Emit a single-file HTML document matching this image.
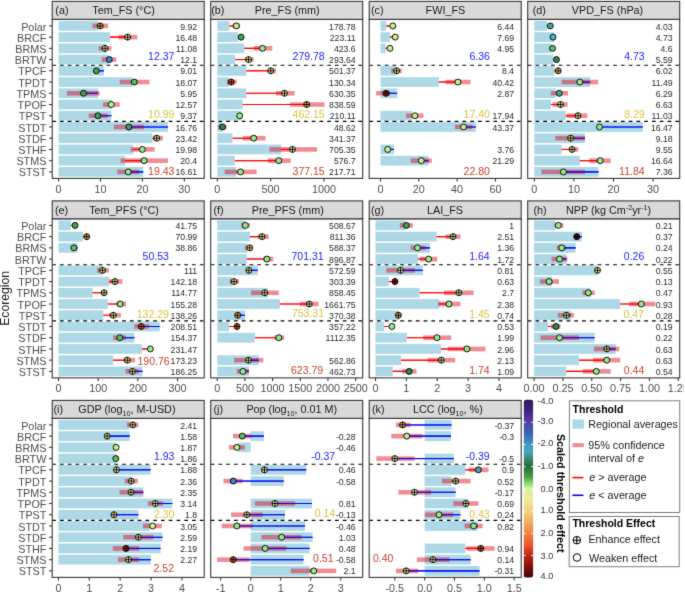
<!DOCTYPE html>
<html><head><meta charset="utf-8"><title>Threshold figure</title>
<style>
html,body{margin:0;padding:0;background:#fff;width:685px;height:592px;overflow:hidden}
svg{display:block;font-family:"Liberation Sans", sans-serif}
</style></head><body>
<svg width="685" height="592" viewBox="0 0 685 592">
<defs><filter id="soft" filterUnits="userSpaceOnUse" x="0" y="0" width="685" height="592" color-interpolation-filters="sRGB"><feConvolveMatrix order="3" kernelMatrix="0.0113 0.0838 0.0113 0.0838 0.6193 0.0838 0.0113 0.0838 0.0113" edgeMode="duplicate"/></filter></defs>
<g filter="url(#soft)">
<rect width="685" height="592" fill="#FFFFFF"/>
<g>
<rect x="52.20" y="19.30" width="152.00" height="159.10" fill="#FFFFFF"/>
<clipPath id="cpa"><rect x="52.20" y="19.30" width="152.00" height="159.10"/></clipPath>
<g clip-path="url(#cpa)">
<rect x="58.60" y="21.02" width="39.51" height="9.75" fill="#ADD8E6"/>
<rect x="58.60" y="32.25" width="51.54" height="9.75" fill="#ADD8E6"/>
<rect x="58.60" y="43.48" width="47.35" height="9.75" fill="#ADD8E6"/>
<rect x="58.60" y="54.71" width="49.86" height="9.75" fill="#ADD8E6"/>
<rect x="58.60" y="65.94" width="45.25" height="9.75" fill="#ADD8E6"/>
<rect x="58.60" y="77.18" width="73.74" height="9.75" fill="#ADD8E6"/>
<rect x="58.60" y="88.41" width="39.39" height="9.75" fill="#ADD8E6"/>
<rect x="58.60" y="99.63" width="53.21" height="9.75" fill="#ADD8E6"/>
<rect x="58.60" y="110.87" width="52.79" height="9.75" fill="#ADD8E6"/>
<rect x="58.60" y="122.09" width="109.36" height="9.75" fill="#ADD8E6"/>
<rect x="58.60" y="133.33" width="93.86" height="9.75" fill="#ADD8E6"/>
<rect x="58.60" y="144.56" width="74.58" height="9.75" fill="#ADD8E6"/>
<rect x="58.60" y="155.78" width="66.62" height="9.75" fill="#ADD8E6"/>
<rect x="58.60" y="167.02" width="84.64" height="9.75" fill="#ADD8E6"/>
<line x1="52.20" y1="65.20" x2="204.20" y2="65.20" stroke="#000" stroke-width="1.1" stroke-dasharray="3.7 4.07"/>
<line x1="52.20" y1="121.35" x2="204.20" y2="121.35" stroke="#000" stroke-width="1.1" stroke-dasharray="3.7 4.07"/>
<line x1="98.11" y1="25.90" x2="100.16" y2="25.90" stroke="#FF0000" stroke-width="1.05"/>
<line x1="110.14" y1="37.13" x2="127.65" y2="37.13" stroke="#FF0000" stroke-width="1.05"/>
<line x1="105.95" y1="48.36" x2="105.03" y2="48.36" stroke="#0000FF" stroke-width="1.05"/>
<line x1="108.46" y1="59.59" x2="109.30" y2="59.59" stroke="#FF0000" stroke-width="1.05"/>
<line x1="103.85" y1="70.82" x2="96.35" y2="70.82" stroke="#0000FF" stroke-width="1.05"/>
<line x1="132.34" y1="82.05" x2="134.31" y2="82.05" stroke="#FF0000" stroke-width="1.05"/>
<line x1="97.99" y1="93.28" x2="83.53" y2="93.28" stroke="#0000FF" stroke-width="1.05"/>
<line x1="111.81" y1="104.51" x2="111.27" y2="104.51" stroke="#0000FF" stroke-width="1.05"/>
<line x1="111.39" y1="115.74" x2="97.86" y2="115.74" stroke="#0000FF" stroke-width="1.05"/>
<line x1="167.96" y1="126.97" x2="128.82" y2="126.97" stroke="#0000FF" stroke-width="1.05"/>
<line x1="152.46" y1="138.20" x2="156.73" y2="138.20" stroke="#FF0000" stroke-width="1.05"/>
<line x1="133.18" y1="149.43" x2="142.32" y2="149.43" stroke="#FF0000" stroke-width="1.05"/>
<line x1="125.22" y1="160.66" x2="144.08" y2="160.66" stroke="#FF0000" stroke-width="1.05"/>
<line x1="143.24" y1="171.89" x2="128.20" y2="171.89" stroke="#0000FF" stroke-width="1.05"/>
<rect x="92.54" y="23.60" width="15.50" height="4.60" fill="rgba(222,0,22,0.45)"/>
<rect x="118.52" y="34.83" width="18.86" height="4.60" fill="rgba(222,0,22,0.45)"/>
<rect x="98.82" y="46.06" width="12.57" height="4.60" fill="rgba(222,0,22,0.45)"/>
<rect x="101.76" y="57.29" width="14.67" height="4.60" fill="rgba(222,0,22,0.45)"/>
<rect x="119.77" y="79.75" width="29.75" height="4.60" fill="rgba(222,0,22,0.45)"/>
<rect x="66.98" y="90.98" width="32.68" height="4.60" fill="rgba(222,0,22,0.45)"/>
<rect x="103.01" y="102.21" width="16.76" height="4.60" fill="rgba(222,0,22,0.45)"/>
<rect x="88.77" y="113.44" width="18.86" height="4.60" fill="rgba(222,0,22,0.45)"/>
<rect x="113.91" y="124.67" width="30.17" height="4.60" fill="rgba(222,0,22,0.45)"/>
<rect x="152.88" y="135.90" width="10.06" height="4.60" fill="rgba(222,0,22,0.45)"/>
<rect x="130.67" y="147.13" width="23.88" height="4.60" fill="rgba(222,0,22,0.45)"/>
<rect x="120.61" y="158.36" width="47.35" height="4.60" fill="rgba(222,0,22,0.45)"/>
<rect x="117.26" y="169.59" width="21.79" height="4.60" fill="rgba(222,0,22,0.45)"/>
<line x1="98.11" y1="25.90" x2="100.16" y2="25.90" stroke="#FF0000" stroke-width="1.15" stroke-opacity="0.75"/>
<line x1="110.14" y1="37.13" x2="127.65" y2="37.13" stroke="#FF0000" stroke-width="1.15" stroke-opacity="0.75"/>
<line x1="105.95" y1="48.36" x2="105.03" y2="48.36" stroke="#0000FF" stroke-width="1.15" stroke-opacity="0.75"/>
<line x1="108.46" y1="59.59" x2="109.30" y2="59.59" stroke="#FF0000" stroke-width="1.15" stroke-opacity="0.75"/>
<line x1="103.85" y1="70.82" x2="96.35" y2="70.82" stroke="#0000FF" stroke-width="1.15" stroke-opacity="0.75"/>
<line x1="132.34" y1="82.05" x2="134.31" y2="82.05" stroke="#FF0000" stroke-width="1.15" stroke-opacity="0.75"/>
<line x1="97.99" y1="93.28" x2="83.53" y2="93.28" stroke="#0000FF" stroke-width="1.15" stroke-opacity="0.75"/>
<line x1="111.81" y1="104.51" x2="111.27" y2="104.51" stroke="#0000FF" stroke-width="1.15" stroke-opacity="0.75"/>
<line x1="111.39" y1="115.74" x2="97.86" y2="115.74" stroke="#0000FF" stroke-width="1.15" stroke-opacity="0.75"/>
<line x1="167.96" y1="126.97" x2="128.82" y2="126.97" stroke="#0000FF" stroke-width="1.15" stroke-opacity="0.75"/>
<line x1="152.46" y1="138.20" x2="156.73" y2="138.20" stroke="#FF0000" stroke-width="1.15" stroke-opacity="0.75"/>
<line x1="133.18" y1="149.43" x2="142.32" y2="149.43" stroke="#FF0000" stroke-width="1.15" stroke-opacity="0.75"/>
<line x1="125.22" y1="160.66" x2="144.08" y2="160.66" stroke="#FF0000" stroke-width="1.15" stroke-opacity="0.75"/>
<line x1="143.24" y1="171.89" x2="128.20" y2="171.89" stroke="#0000FF" stroke-width="1.15" stroke-opacity="0.75"/>
<circle cx="100.16" cy="25.90" r="3.0" fill="#E9A446" stroke="#000" stroke-width="0.9"/>
<path d="M97.16 25.90H103.16M100.16 22.90V28.90" stroke="#000" stroke-width="0.9"/>
<circle cx="127.65" cy="37.13" r="3.0" fill="#EAE58E" stroke="#000" stroke-width="0.9"/>
<path d="M124.65 37.13H130.65M127.65 34.13V40.13" stroke="#000" stroke-width="0.9"/>
<circle cx="105.03" cy="48.36" r="3.0" fill="#EAE58E" stroke="#000" stroke-width="0.9"/>
<path d="M102.03 48.36H108.03M105.03 45.36V51.36" stroke="#000" stroke-width="0.9"/>
<circle cx="109.30" cy="59.59" r="3.0" fill="#3E7EC2" stroke="#000" stroke-width="0.9"/>
<circle cx="96.35" cy="70.82" r="3.0" fill="#40A055" stroke="#000" stroke-width="0.9"/>
<circle cx="134.31" cy="82.05" r="3.0" fill="#5FBE64" stroke="#000" stroke-width="0.9"/>
<circle cx="83.53" cy="93.28" r="3.0" fill="#40A055" stroke="#000" stroke-width="0.9"/>
<circle cx="111.27" cy="104.51" r="3.0" fill="#BBEE8E" stroke="#000" stroke-width="0.9"/>
<circle cx="97.86" cy="115.74" r="3.0" fill="#40A055" stroke="#000" stroke-width="0.9"/>
<circle cx="128.82" cy="126.97" r="3.0" fill="#40A055" stroke="#000" stroke-width="0.9"/>
<circle cx="156.73" cy="138.20" r="3.0" fill="#EAE58E" stroke="#000" stroke-width="0.9"/>
<path d="M153.73 138.20H159.73M156.73 135.20V141.20" stroke="#000" stroke-width="0.9"/>
<circle cx="142.32" cy="149.43" r="3.0" fill="#95E989" stroke="#000" stroke-width="0.9"/>
<circle cx="144.08" cy="160.66" r="3.0" fill="#95E989" stroke="#000" stroke-width="0.9"/>
<circle cx="128.20" cy="171.89" r="3.0" fill="#95E989" stroke="#000" stroke-width="0.9"/>
<text x="197.20" y="29.50" font-size="8.7" fill="#2A2A2A" text-anchor="end">9.92</text>
<text x="197.20" y="40.73" font-size="8.7" fill="#2A2A2A" text-anchor="end">16.48</text>
<text x="197.20" y="51.96" font-size="8.7" fill="#2A2A2A" text-anchor="end">11.08</text>
<text x="197.20" y="63.19" font-size="8.7" fill="#2A2A2A" text-anchor="end">12.1</text>
<text x="197.20" y="74.42" font-size="8.7" fill="#2A2A2A" text-anchor="end">9.01</text>
<text x="197.20" y="85.65" font-size="8.7" fill="#2A2A2A" text-anchor="end">18.07</text>
<text x="197.20" y="96.88" font-size="8.7" fill="#2A2A2A" text-anchor="end">5.95</text>
<text x="197.20" y="108.11" font-size="8.7" fill="#2A2A2A" text-anchor="end">12.57</text>
<text x="197.20" y="119.34" font-size="8.7" fill="#2A2A2A" text-anchor="end">9.37</text>
<text x="197.20" y="130.57" font-size="8.7" fill="#2A2A2A" text-anchor="end">16.76</text>
<text x="197.20" y="141.80" font-size="8.7" fill="#2A2A2A" text-anchor="end">23.42</text>
<text x="197.20" y="153.03" font-size="8.7" fill="#2A2A2A" text-anchor="end">19.98</text>
<text x="197.20" y="164.26" font-size="8.7" fill="#2A2A2A" text-anchor="end">20.4</text>
<text x="197.20" y="175.49" font-size="8.7" fill="#2A2A2A" text-anchor="end">16.61</text>
<text x="174.40" y="59.55" font-size="10.5" fill="#2222FA" text-anchor="end">12.37</text>
<text x="174.40" y="118.25" font-size="10.5" fill="#D8C440" text-anchor="end">10.99</text>
<text x="174.40" y="175.25" font-size="10.5" fill="#C4432E" text-anchor="end">19.43</text>
</g>
<rect x="52.20" y="19.30" width="152.00" height="159.10" fill="none" stroke="#333333" stroke-width="1.07"/>
<rect x="52.20" y="1.40" width="152.00" height="17.90" fill="#D9D9D9" stroke="#333333" stroke-width="1.07"/>
<text x="55.30" y="14.00" font-size="10.8" fill="#1A1A1A" text-anchor="start">(a)</text>
<text x="92.30" y="14.00" font-size="10.8" fill="#1A1A1A">Tem_FS (°C)</text>
<line x1="49.10" y1="25.90" x2="52.20" y2="25.90" stroke="#333333" stroke-width="1.07"/>
<text x="46.40" y="30.50" font-size="10.8" fill="#4D4D4D" text-anchor="end">Polar</text>
<line x1="49.10" y1="37.13" x2="52.20" y2="37.13" stroke="#333333" stroke-width="1.07"/>
<text x="46.40" y="41.73" font-size="10.8" fill="#4D4D4D" text-anchor="end">BRCF</text>
<line x1="49.10" y1="48.36" x2="52.20" y2="48.36" stroke="#333333" stroke-width="1.07"/>
<text x="46.40" y="52.96" font-size="10.8" fill="#4D4D4D" text-anchor="end">BRMS</text>
<line x1="49.10" y1="59.59" x2="52.20" y2="59.59" stroke="#333333" stroke-width="1.07"/>
<text x="46.40" y="64.19" font-size="10.8" fill="#4D4D4D" text-anchor="end">BRTW</text>
<line x1="49.10" y1="70.82" x2="52.20" y2="70.82" stroke="#333333" stroke-width="1.07"/>
<text x="46.40" y="75.42" font-size="10.8" fill="#4D4D4D" text-anchor="end">TPCF</text>
<line x1="49.10" y1="82.05" x2="52.20" y2="82.05" stroke="#333333" stroke-width="1.07"/>
<text x="46.40" y="86.65" font-size="10.8" fill="#4D4D4D" text-anchor="end">TPDT</text>
<line x1="49.10" y1="93.28" x2="52.20" y2="93.28" stroke="#333333" stroke-width="1.07"/>
<text x="46.40" y="97.88" font-size="10.8" fill="#4D4D4D" text-anchor="end">TPMS</text>
<line x1="49.10" y1="104.51" x2="52.20" y2="104.51" stroke="#333333" stroke-width="1.07"/>
<text x="46.40" y="109.11" font-size="10.8" fill="#4D4D4D" text-anchor="end">TPOF</text>
<line x1="49.10" y1="115.74" x2="52.20" y2="115.74" stroke="#333333" stroke-width="1.07"/>
<text x="46.40" y="120.34" font-size="10.8" fill="#4D4D4D" text-anchor="end">TPST</text>
<line x1="49.10" y1="126.97" x2="52.20" y2="126.97" stroke="#333333" stroke-width="1.07"/>
<text x="46.40" y="131.57" font-size="10.8" fill="#4D4D4D" text-anchor="end">STDT</text>
<line x1="49.10" y1="138.20" x2="52.20" y2="138.20" stroke="#333333" stroke-width="1.07"/>
<text x="46.40" y="142.80" font-size="10.8" fill="#4D4D4D" text-anchor="end">STDF</text>
<line x1="49.10" y1="149.43" x2="52.20" y2="149.43" stroke="#333333" stroke-width="1.07"/>
<text x="46.40" y="154.03" font-size="10.8" fill="#4D4D4D" text-anchor="end">STHF</text>
<line x1="49.10" y1="160.66" x2="52.20" y2="160.66" stroke="#333333" stroke-width="1.07"/>
<text x="46.40" y="165.26" font-size="10.8" fill="#4D4D4D" text-anchor="end">STMS</text>
<line x1="49.10" y1="171.89" x2="52.20" y2="171.89" stroke="#333333" stroke-width="1.07"/>
<text x="46.40" y="176.49" font-size="10.8" fill="#4D4D4D" text-anchor="end">STST</text>
<line x1="58.60" y1="178.40" x2="58.60" y2="181.60" stroke="#333333" stroke-width="1.07"/>
<text x="58.60" y="192.60" font-size="10.8" fill="#4D4D4D" text-anchor="middle">0</text>
<line x1="100.50" y1="178.40" x2="100.50" y2="181.60" stroke="#333333" stroke-width="1.07"/>
<text x="100.50" y="192.60" font-size="10.8" fill="#4D4D4D" text-anchor="middle">10</text>
<line x1="142.40" y1="178.40" x2="142.40" y2="181.60" stroke="#333333" stroke-width="1.07"/>
<text x="142.40" y="192.60" font-size="10.8" fill="#4D4D4D" text-anchor="middle">20</text>
<line x1="184.30" y1="178.40" x2="184.30" y2="181.60" stroke="#333333" stroke-width="1.07"/>
<text x="184.30" y="192.60" font-size="10.8" fill="#4D4D4D" text-anchor="middle">30</text>
</g>
<g>
<rect x="210.70" y="19.30" width="152.00" height="159.10" fill="#FFFFFF"/>
<clipPath id="cpb"><rect x="210.70" y="19.30" width="152.00" height="159.10"/></clipPath>
<g clip-path="url(#cpb)">
<rect x="217.30" y="21.02" width="12.10" height="9.75" fill="#ADD8E6"/>
<rect x="217.30" y="32.25" width="20.68" height="9.75" fill="#ADD8E6"/>
<rect x="217.30" y="43.48" width="27.08" height="9.75" fill="#ADD8E6"/>
<rect x="217.30" y="54.71" width="17.91" height="9.75" fill="#ADD8E6"/>
<rect x="217.30" y="65.94" width="29.10" height="9.75" fill="#ADD8E6"/>
<rect x="217.30" y="77.18" width="11.94" height="9.75" fill="#ADD8E6"/>
<rect x="217.30" y="88.41" width="29.10" height="9.75" fill="#ADD8E6"/>
<rect x="217.30" y="99.63" width="25.37" height="9.75" fill="#ADD8E6"/>
<rect x="217.30" y="110.87" width="24.20" height="9.75" fill="#ADD8E6"/>
<rect x="217.30" y="122.09" width="4.80" height="9.75" fill="#ADD8E6"/>
<rect x="217.30" y="133.33" width="15.24" height="9.75" fill="#ADD8E6"/>
<rect x="217.30" y="144.56" width="63.96" height="9.75" fill="#ADD8E6"/>
<rect x="217.30" y="155.78" width="17.48" height="9.75" fill="#ADD8E6"/>
<rect x="217.30" y="167.02" width="18.66" height="9.75" fill="#ADD8E6"/>
<line x1="210.70" y1="65.20" x2="362.70" y2="65.20" stroke="#000" stroke-width="1.1" stroke-dasharray="3.7 4.07"/>
<line x1="210.70" y1="121.35" x2="362.70" y2="121.35" stroke="#000" stroke-width="1.1" stroke-dasharray="3.7 4.07"/>
<line x1="229.40" y1="25.90" x2="236.36" y2="25.90" stroke="#FF0000" stroke-width="1.05"/>
<line x1="237.98" y1="37.13" x2="241.08" y2="37.13" stroke="#FF0000" stroke-width="1.05"/>
<line x1="244.38" y1="48.36" x2="262.46" y2="48.36" stroke="#FF0000" stroke-width="1.05"/>
<line x1="235.21" y1="59.59" x2="248.60" y2="59.59" stroke="#FF0000" stroke-width="1.05"/>
<line x1="246.40" y1="70.82" x2="270.75" y2="70.82" stroke="#FF0000" stroke-width="1.05"/>
<line x1="229.24" y1="82.05" x2="231.19" y2="82.05" stroke="#FF0000" stroke-width="1.05"/>
<line x1="246.40" y1="93.28" x2="284.50" y2="93.28" stroke="#FF0000" stroke-width="1.05"/>
<line x1="242.67" y1="104.51" x2="306.69" y2="104.51" stroke="#FF0000" stroke-width="1.05"/>
<line x1="241.50" y1="115.74" x2="239.70" y2="115.74" stroke="#0000FF" stroke-width="1.05"/>
<line x1="222.10" y1="126.97" x2="222.48" y2="126.97" stroke="#FF0000" stroke-width="1.05"/>
<line x1="232.54" y1="138.20" x2="253.69" y2="138.20" stroke="#FF0000" stroke-width="1.05"/>
<line x1="281.26" y1="149.43" x2="292.49" y2="149.43" stroke="#FF0000" stroke-width="1.05"/>
<line x1="234.78" y1="160.66" x2="278.78" y2="160.66" stroke="#FF0000" stroke-width="1.05"/>
<line x1="235.96" y1="171.89" x2="240.51" y2="171.89" stroke="#FF0000" stroke-width="1.05"/>
<rect x="232.54" y="23.60" width="7.46" height="4.60" fill="rgba(222,0,22,0.45)"/>
<rect x="253.76" y="46.06" width="18.55" height="4.60" fill="rgba(222,0,22,0.45)"/>
<rect x="244.80" y="57.29" width="8.95" height="4.60" fill="rgba(222,0,22,0.45)"/>
<rect x="267.72" y="68.52" width="8.31" height="4.60" fill="rgba(222,0,22,0.45)"/>
<rect x="227.00" y="79.75" width="9.59" height="4.60" fill="rgba(222,0,22,0.45)"/>
<rect x="276.04" y="90.98" width="18.55" height="4.60" fill="rgba(222,0,22,0.45)"/>
<rect x="290.11" y="102.21" width="34.43" height="4.60" fill="rgba(222,0,22,0.45)"/>
<rect x="218.15" y="124.67" width="8.42" height="4.60" fill="rgba(222,0,22,0.45)"/>
<rect x="242.67" y="135.90" width="22.92" height="4.60" fill="rgba(222,0,22,0.45)"/>
<rect x="269.43" y="147.13" width="47.54" height="4.60" fill="rgba(222,0,22,0.45)"/>
<rect x="267.72" y="158.36" width="22.92" height="4.60" fill="rgba(222,0,22,0.45)"/>
<rect x="224.76" y="169.59" width="31.87" height="4.60" fill="rgba(222,0,22,0.45)"/>
<line x1="229.40" y1="25.90" x2="236.36" y2="25.90" stroke="#FF0000" stroke-width="1.15" stroke-opacity="0.75"/>
<line x1="237.98" y1="37.13" x2="241.08" y2="37.13" stroke="#FF0000" stroke-width="1.15" stroke-opacity="0.75"/>
<line x1="244.38" y1="48.36" x2="262.46" y2="48.36" stroke="#FF0000" stroke-width="1.15" stroke-opacity="0.75"/>
<line x1="235.21" y1="59.59" x2="248.60" y2="59.59" stroke="#FF0000" stroke-width="1.15" stroke-opacity="0.75"/>
<line x1="246.40" y1="70.82" x2="270.75" y2="70.82" stroke="#FF0000" stroke-width="1.15" stroke-opacity="0.75"/>
<line x1="229.24" y1="82.05" x2="231.19" y2="82.05" stroke="#FF0000" stroke-width="1.15" stroke-opacity="0.75"/>
<line x1="246.40" y1="93.28" x2="284.50" y2="93.28" stroke="#FF0000" stroke-width="1.15" stroke-opacity="0.75"/>
<line x1="242.67" y1="104.51" x2="306.69" y2="104.51" stroke="#FF0000" stroke-width="1.15" stroke-opacity="0.75"/>
<line x1="241.50" y1="115.74" x2="239.70" y2="115.74" stroke="#0000FF" stroke-width="1.15" stroke-opacity="0.75"/>
<line x1="222.10" y1="126.97" x2="222.48" y2="126.97" stroke="#FF0000" stroke-width="1.15" stroke-opacity="0.75"/>
<line x1="232.54" y1="138.20" x2="253.69" y2="138.20" stroke="#FF0000" stroke-width="1.15" stroke-opacity="0.75"/>
<line x1="281.26" y1="149.43" x2="292.49" y2="149.43" stroke="#FF0000" stroke-width="1.15" stroke-opacity="0.75"/>
<line x1="234.78" y1="160.66" x2="278.78" y2="160.66" stroke="#FF0000" stroke-width="1.15" stroke-opacity="0.75"/>
<line x1="235.96" y1="171.89" x2="240.51" y2="171.89" stroke="#FF0000" stroke-width="1.15" stroke-opacity="0.75"/>
<circle cx="236.36" cy="25.90" r="3.0" fill="#BBEE8E" stroke="#000" stroke-width="0.9"/>
<circle cx="241.08" cy="37.13" r="3.0" fill="#40A055" stroke="#000" stroke-width="0.9"/>
<circle cx="262.46" cy="48.36" r="3.0" fill="#95E989" stroke="#000" stroke-width="0.9"/>
<circle cx="248.60" cy="59.59" r="3.0" fill="#EAE58E" stroke="#000" stroke-width="0.9"/>
<path d="M245.60 59.59H251.60M248.60 56.59V62.59" stroke="#000" stroke-width="0.9"/>
<circle cx="270.75" cy="70.82" r="3.0" fill="#EAE58E" stroke="#000" stroke-width="0.9"/>
<path d="M267.75 70.82H273.75M270.75 67.82V73.82" stroke="#000" stroke-width="0.9"/>
<circle cx="231.19" cy="82.05" r="3.0" fill="#E0552C" stroke="#000" stroke-width="0.9"/>
<path d="M228.19 82.05H234.19M231.19 79.05V85.05" stroke="#000" stroke-width="0.9"/>
<circle cx="284.50" cy="93.28" r="3.0" fill="#EAE58E" stroke="#000" stroke-width="0.9"/>
<path d="M281.50 93.28H287.50M284.50 90.28V96.28" stroke="#000" stroke-width="0.9"/>
<circle cx="306.69" cy="104.51" r="3.0" fill="#E9A446" stroke="#000" stroke-width="0.9"/>
<path d="M303.69 104.51H309.69M306.69 101.51V107.51" stroke="#000" stroke-width="0.9"/>
<circle cx="239.70" cy="115.74" r="3.0" fill="#95E989" stroke="#000" stroke-width="0.9"/>
<circle cx="222.48" cy="126.97" r="3.0" fill="#2F8650" stroke="#000" stroke-width="0.9"/>
<circle cx="253.69" cy="138.20" r="3.0" fill="#95E989" stroke="#000" stroke-width="0.9"/>
<circle cx="292.49" cy="149.43" r="3.0" fill="#D8EE9A" stroke="#000" stroke-width="0.9"/>
<path d="M289.49 149.43H295.49M292.49 146.43V152.43" stroke="#000" stroke-width="0.9"/>
<circle cx="278.78" cy="160.66" r="3.0" fill="#95E989" stroke="#000" stroke-width="0.9"/>
<circle cx="240.51" cy="171.89" r="3.0" fill="#95E989" stroke="#000" stroke-width="0.9"/>
<text x="355.70" y="29.50" font-size="8.7" fill="#2A2A2A" text-anchor="end">178.78</text>
<text x="355.70" y="40.73" font-size="8.7" fill="#2A2A2A" text-anchor="end">223.11</text>
<text x="355.70" y="51.96" font-size="8.7" fill="#2A2A2A" text-anchor="end">423.6</text>
<text x="355.70" y="63.19" font-size="8.7" fill="#2A2A2A" text-anchor="end">293.64</text>
<text x="355.70" y="74.42" font-size="8.7" fill="#2A2A2A" text-anchor="end">501.37</text>
<text x="355.70" y="85.65" font-size="8.7" fill="#2A2A2A" text-anchor="end">130.34</text>
<text x="355.70" y="96.88" font-size="8.7" fill="#2A2A2A" text-anchor="end">630.35</text>
<text x="355.70" y="108.11" font-size="8.7" fill="#2A2A2A" text-anchor="end">838.59</text>
<text x="355.70" y="119.34" font-size="8.7" fill="#2A2A2A" text-anchor="end">210.11</text>
<text x="355.70" y="130.57" font-size="8.7" fill="#2A2A2A" text-anchor="end">48.62</text>
<text x="355.70" y="141.80" font-size="8.7" fill="#2A2A2A" text-anchor="end">341.37</text>
<text x="355.70" y="153.03" font-size="8.7" fill="#2A2A2A" text-anchor="end">705.35</text>
<text x="355.70" y="164.26" font-size="8.7" fill="#2A2A2A" text-anchor="end">576.7</text>
<text x="355.70" y="175.49" font-size="8.7" fill="#2A2A2A" text-anchor="end">217.71</text>
<text x="324.70" y="59.95" font-size="10.5" fill="#2222FA" text-anchor="end">279.78</text>
<text x="324.70" y="118.25" font-size="10.5" fill="#D8C440" text-anchor="end">462.15</text>
<text x="324.70" y="175.25" font-size="10.5" fill="#C4432E" text-anchor="end">377.15</text>
</g>
<rect x="210.70" y="19.30" width="152.00" height="159.10" fill="none" stroke="#333333" stroke-width="1.07"/>
<rect x="210.70" y="1.40" width="152.00" height="17.90" fill="#D9D9D9" stroke="#333333" stroke-width="1.07"/>
<text x="211.20" y="14.00" font-size="10.8" fill="#1A1A1A" text-anchor="start">(b)</text>
<text x="254.80" y="14.00" font-size="10.8" fill="#1A1A1A">Pre_FS (mm)</text>
<line x1="217.30" y1="178.40" x2="217.30" y2="181.60" stroke="#333333" stroke-width="1.07"/>
<text x="217.30" y="192.60" font-size="10.8" fill="#4D4D4D" text-anchor="middle">0</text>
<line x1="270.60" y1="178.40" x2="270.60" y2="181.60" stroke="#333333" stroke-width="1.07"/>
<text x="270.60" y="192.60" font-size="10.8" fill="#4D4D4D" text-anchor="middle">500</text>
<line x1="323.90" y1="178.40" x2="323.90" y2="181.60" stroke="#333333" stroke-width="1.07"/>
<text x="323.90" y="192.60" font-size="10.8" fill="#4D4D4D" text-anchor="middle">1000</text>
</g>
<g>
<rect x="369.20" y="19.30" width="152.00" height="159.10" fill="#FFFFFF"/>
<clipPath id="cpc"><rect x="369.20" y="19.30" width="152.00" height="159.10"/></clipPath>
<g clip-path="url(#cpc)">
<rect x="380.50" y="21.02" width="5.75" height="9.75" fill="#ADD8E6"/>
<rect x="380.50" y="32.25" width="9.57" height="9.75" fill="#ADD8E6"/>
<rect x="380.50" y="43.48" width="5.17" height="9.75" fill="#ADD8E6"/>
<rect x="380.50" y="65.94" width="15.13" height="9.75" fill="#ADD8E6"/>
<rect x="380.50" y="77.18" width="58.41" height="9.75" fill="#ADD8E6"/>
<rect x="380.50" y="88.41" width="16.66" height="9.75" fill="#ADD8E6"/>
<rect x="380.50" y="110.87" width="31.41" height="9.75" fill="#ADD8E6"/>
<rect x="380.50" y="122.09" width="95.37" height="9.75" fill="#ADD8E6"/>
<rect x="380.50" y="144.56" width="13.40" height="9.75" fill="#ADD8E6"/>
<rect x="380.50" y="155.78" width="48.07" height="9.75" fill="#ADD8E6"/>
<line x1="369.20" y1="65.20" x2="521.20" y2="65.20" stroke="#000" stroke-width="1.1" stroke-dasharray="3.7 4.07"/>
<line x1="369.20" y1="121.35" x2="521.20" y2="121.35" stroke="#000" stroke-width="1.1" stroke-dasharray="3.7 4.07"/>
<line x1="386.25" y1="25.90" x2="392.83" y2="25.90" stroke="#FF0000" stroke-width="1.05"/>
<line x1="390.07" y1="37.13" x2="395.23" y2="37.13" stroke="#FF0000" stroke-width="1.05"/>
<line x1="385.67" y1="48.36" x2="389.98" y2="48.36" stroke="#FF0000" stroke-width="1.05"/>
<line x1="395.63" y1="70.82" x2="396.59" y2="70.82" stroke="#FF0000" stroke-width="1.05"/>
<line x1="438.91" y1="82.05" x2="457.90" y2="82.05" stroke="#FF0000" stroke-width="1.05"/>
<line x1="397.16" y1="93.28" x2="386.00" y2="93.28" stroke="#0000FF" stroke-width="1.05"/>
<line x1="411.91" y1="115.74" x2="414.86" y2="115.74" stroke="#FF0000" stroke-width="1.05"/>
<line x1="475.87" y1="126.97" x2="463.55" y2="126.97" stroke="#0000FF" stroke-width="1.05"/>
<line x1="393.90" y1="149.43" x2="387.70" y2="149.43" stroke="#0000FF" stroke-width="1.05"/>
<line x1="428.57" y1="160.66" x2="421.27" y2="160.66" stroke="#0000FF" stroke-width="1.05"/>
<rect x="391.22" y="68.52" width="10.53" height="4.60" fill="rgba(222,0,22,0.45)"/>
<rect x="445.61" y="79.75" width="24.89" height="4.60" fill="rgba(222,0,22,0.45)"/>
<rect x="376.10" y="90.98" width="13.98" height="4.60" fill="rgba(222,0,22,0.45)"/>
<rect x="406.16" y="113.44" width="17.24" height="4.60" fill="rgba(222,0,22,0.45)"/>
<rect x="454.99" y="124.67" width="17.24" height="4.60" fill="rgba(222,0,22,0.45)"/>
<rect x="410.76" y="158.36" width="21.06" height="4.60" fill="rgba(222,0,22,0.45)"/>
<line x1="386.25" y1="25.90" x2="392.83" y2="25.90" stroke="#FF0000" stroke-width="1.15" stroke-opacity="0.75"/>
<line x1="390.07" y1="37.13" x2="395.23" y2="37.13" stroke="#FF0000" stroke-width="1.15" stroke-opacity="0.75"/>
<line x1="385.67" y1="48.36" x2="389.98" y2="48.36" stroke="#FF0000" stroke-width="1.15" stroke-opacity="0.75"/>
<line x1="395.63" y1="70.82" x2="396.59" y2="70.82" stroke="#FF0000" stroke-width="1.15" stroke-opacity="0.75"/>
<line x1="438.91" y1="82.05" x2="457.90" y2="82.05" stroke="#FF0000" stroke-width="1.15" stroke-opacity="0.75"/>
<line x1="397.16" y1="93.28" x2="386.00" y2="93.28" stroke="#0000FF" stroke-width="1.15" stroke-opacity="0.75"/>
<line x1="411.91" y1="115.74" x2="414.86" y2="115.74" stroke="#FF0000" stroke-width="1.15" stroke-opacity="0.75"/>
<line x1="475.87" y1="126.97" x2="463.55" y2="126.97" stroke="#0000FF" stroke-width="1.15" stroke-opacity="0.75"/>
<line x1="393.90" y1="149.43" x2="387.70" y2="149.43" stroke="#0000FF" stroke-width="1.15" stroke-opacity="0.75"/>
<line x1="428.57" y1="160.66" x2="421.27" y2="160.66" stroke="#0000FF" stroke-width="1.15" stroke-opacity="0.75"/>
<circle cx="392.83" cy="25.90" r="3.0" fill="#C4EF92" stroke="#000" stroke-width="0.9"/>
<circle cx="395.23" cy="37.13" r="3.0" fill="#C4EF92" stroke="#000" stroke-width="0.9"/>
<circle cx="389.98" cy="48.36" r="3.0" fill="#C4EF92" stroke="#000" stroke-width="0.9"/>
<circle cx="396.59" cy="70.82" r="3.0" fill="#D8EE9A" stroke="#000" stroke-width="0.9"/>
<path d="M393.59 70.82H399.59M396.59 67.82V73.82" stroke="#000" stroke-width="0.9"/>
<circle cx="457.90" cy="82.05" r="3.0" fill="#C4EF92" stroke="#000" stroke-width="0.9"/>
<circle cx="386.00" cy="93.28" r="3.0" fill="#8E1B16" stroke="#000" stroke-width="0.9"/>
<path d="M383.00 93.28H389.00M386.00 90.28V96.28" stroke="#000" stroke-width="0.9"/>
<circle cx="414.86" cy="115.74" r="3.0" fill="#C4EF92" stroke="#000" stroke-width="0.9"/>
<circle cx="463.55" cy="126.97" r="3.0" fill="#C4EF92" stroke="#000" stroke-width="0.9"/>
<circle cx="387.70" cy="149.43" r="3.0" fill="#C4EF92" stroke="#000" stroke-width="0.9"/>
<circle cx="421.27" cy="160.66" r="3.0" fill="#C4EF92" stroke="#000" stroke-width="0.9"/>
<text x="514.20" y="29.50" font-size="8.7" fill="#2A2A2A" text-anchor="end">6.44</text>
<text x="514.20" y="40.73" font-size="8.7" fill="#2A2A2A" text-anchor="end">7.69</text>
<text x="514.20" y="51.96" font-size="8.7" fill="#2A2A2A" text-anchor="end">4.95</text>
<text x="514.20" y="74.42" font-size="8.7" fill="#2A2A2A" text-anchor="end">8.4</text>
<text x="514.20" y="85.65" font-size="8.7" fill="#2A2A2A" text-anchor="end">40.42</text>
<text x="514.20" y="96.88" font-size="8.7" fill="#2A2A2A" text-anchor="end">2.87</text>
<text x="514.20" y="119.34" font-size="8.7" fill="#2A2A2A" text-anchor="end">17.94</text>
<text x="514.20" y="130.57" font-size="8.7" fill="#2A2A2A" text-anchor="end">43.37</text>
<text x="514.20" y="153.03" font-size="8.7" fill="#2A2A2A" text-anchor="end">3.76</text>
<text x="514.20" y="164.26" font-size="8.7" fill="#2A2A2A" text-anchor="end">21.29</text>
<text x="489.90" y="59.95" font-size="10.5" fill="#2222FA" text-anchor="end">6.36</text>
<text x="489.90" y="118.25" font-size="10.5" fill="#D8C440" text-anchor="end">17.40</text>
<text x="489.90" y="175.25" font-size="10.5" fill="#C4432E" text-anchor="end">22.80</text>
</g>
<rect x="369.20" y="19.30" width="152.00" height="159.10" fill="none" stroke="#333333" stroke-width="1.07"/>
<rect x="369.20" y="1.40" width="152.00" height="17.90" fill="#D9D9D9" stroke="#333333" stroke-width="1.07"/>
<text x="371.00" y="14.00" font-size="10.8" fill="#1A1A1A" text-anchor="start">(c)</text>
<text x="425.60" y="14.00" font-size="10.8" fill="#1A1A1A">FWI_FS</text>
<line x1="380.50" y1="178.40" x2="380.50" y2="181.60" stroke="#333333" stroke-width="1.07"/>
<text x="380.50" y="192.60" font-size="10.8" fill="#4D4D4D" text-anchor="middle">0</text>
<line x1="418.80" y1="178.40" x2="418.80" y2="181.60" stroke="#333333" stroke-width="1.07"/>
<text x="418.80" y="192.60" font-size="10.8" fill="#4D4D4D" text-anchor="middle">20</text>
<line x1="457.10" y1="178.40" x2="457.10" y2="181.60" stroke="#333333" stroke-width="1.07"/>
<text x="457.10" y="192.60" font-size="10.8" fill="#4D4D4D" text-anchor="middle">40</text>
<line x1="495.40" y1="178.40" x2="495.40" y2="181.60" stroke="#333333" stroke-width="1.07"/>
<text x="495.40" y="192.60" font-size="10.8" fill="#4D4D4D" text-anchor="middle">60</text>
</g>
<g>
<rect x="527.70" y="19.30" width="152.00" height="159.10" fill="#FFFFFF"/>
<clipPath id="cpd"><rect x="527.70" y="19.30" width="152.00" height="159.10"/></clipPath>
<g clip-path="url(#cpd)">
<rect x="534.30" y="21.02" width="12.67" height="9.75" fill="#ADD8E6"/>
<rect x="534.30" y="32.25" width="19.80" height="9.75" fill="#ADD8E6"/>
<rect x="534.30" y="43.48" width="16.63" height="9.75" fill="#ADD8E6"/>
<rect x="534.30" y="54.71" width="18.81" height="9.75" fill="#ADD8E6"/>
<rect x="534.30" y="65.94" width="20.20" height="9.75" fill="#ADD8E6"/>
<rect x="534.30" y="77.18" width="55.84" height="9.75" fill="#ADD8E6"/>
<rect x="534.30" y="88.41" width="21.38" height="9.75" fill="#ADD8E6"/>
<rect x="534.30" y="99.63" width="16.63" height="9.75" fill="#ADD8E6"/>
<rect x="534.30" y="110.87" width="31.28" height="9.75" fill="#ADD8E6"/>
<rect x="534.30" y="122.09" width="108.50" height="9.75" fill="#ADD8E6"/>
<rect x="534.30" y="133.33" width="50.69" height="9.75" fill="#ADD8E6"/>
<rect x="534.30" y="144.56" width="27.32" height="9.75" fill="#ADD8E6"/>
<rect x="534.30" y="155.78" width="45.54" height="9.75" fill="#ADD8E6"/>
<rect x="534.30" y="167.02" width="64.15" height="9.75" fill="#ADD8E6"/>
<line x1="527.70" y1="65.20" x2="679.70" y2="65.20" stroke="#000" stroke-width="1.1" stroke-dasharray="3.7 4.07"/>
<line x1="527.70" y1="121.35" x2="679.70" y2="121.35" stroke="#000" stroke-width="1.1" stroke-dasharray="3.7 4.07"/>
<line x1="546.97" y1="25.90" x2="550.26" y2="25.90" stroke="#FF0000" stroke-width="1.05"/>
<line x1="554.10" y1="37.13" x2="553.03" y2="37.13" stroke="#0000FF" stroke-width="1.05"/>
<line x1="550.93" y1="48.36" x2="552.52" y2="48.36" stroke="#FF0000" stroke-width="1.05"/>
<line x1="553.11" y1="59.59" x2="556.44" y2="59.59" stroke="#FF0000" stroke-width="1.05"/>
<line x1="554.50" y1="70.82" x2="558.14" y2="70.82" stroke="#FF0000" stroke-width="1.05"/>
<line x1="590.14" y1="82.05" x2="579.80" y2="82.05" stroke="#0000FF" stroke-width="1.05"/>
<line x1="555.68" y1="93.28" x2="559.21" y2="93.28" stroke="#FF0000" stroke-width="1.05"/>
<line x1="550.93" y1="104.51" x2="560.55" y2="104.51" stroke="#FF0000" stroke-width="1.05"/>
<line x1="565.58" y1="115.74" x2="577.98" y2="115.74" stroke="#FF0000" stroke-width="1.05"/>
<line x1="642.80" y1="126.97" x2="599.52" y2="126.97" stroke="#0000FF" stroke-width="1.05"/>
<line x1="584.99" y1="138.20" x2="570.65" y2="138.20" stroke="#0000FF" stroke-width="1.05"/>
<line x1="561.62" y1="149.43" x2="572.12" y2="149.43" stroke="#FF0000" stroke-width="1.05"/>
<line x1="579.84" y1="160.66" x2="600.19" y2="160.66" stroke="#FF0000" stroke-width="1.05"/>
<line x1="598.45" y1="171.89" x2="563.45" y2="171.89" stroke="#0000FF" stroke-width="1.05"/>
<rect x="561.62" y="79.75" width="36.43" height="4.60" fill="rgba(222,0,22,0.45)"/>
<rect x="550.93" y="90.98" width="17.03" height="4.60" fill="rgba(222,0,22,0.45)"/>
<rect x="552.52" y="102.21" width="15.05" height="4.60" fill="rgba(222,0,22,0.45)"/>
<rect x="566.77" y="113.44" width="20.59" height="4.60" fill="rgba(222,0,22,0.45)"/>
<rect x="555.29" y="135.90" width="29.70" height="4.60" fill="rgba(222,0,22,0.45)"/>
<rect x="569.15" y="147.13" width="9.11" height="4.60" fill="rgba(222,0,22,0.45)"/>
<rect x="589.34" y="158.36" width="21.38" height="4.60" fill="rgba(222,0,22,0.45)"/>
<rect x="541.43" y="169.59" width="43.56" height="4.60" fill="rgba(222,0,22,0.45)"/>
<line x1="546.97" y1="25.90" x2="550.26" y2="25.90" stroke="#FF0000" stroke-width="1.15" stroke-opacity="0.75"/>
<line x1="554.10" y1="37.13" x2="553.03" y2="37.13" stroke="#0000FF" stroke-width="1.15" stroke-opacity="0.75"/>
<line x1="550.93" y1="48.36" x2="552.52" y2="48.36" stroke="#FF0000" stroke-width="1.15" stroke-opacity="0.75"/>
<line x1="553.11" y1="59.59" x2="556.44" y2="59.59" stroke="#FF0000" stroke-width="1.15" stroke-opacity="0.75"/>
<line x1="554.50" y1="70.82" x2="558.14" y2="70.82" stroke="#FF0000" stroke-width="1.15" stroke-opacity="0.75"/>
<line x1="590.14" y1="82.05" x2="579.80" y2="82.05" stroke="#0000FF" stroke-width="1.15" stroke-opacity="0.75"/>
<line x1="555.68" y1="93.28" x2="559.21" y2="93.28" stroke="#FF0000" stroke-width="1.15" stroke-opacity="0.75"/>
<line x1="550.93" y1="104.51" x2="560.55" y2="104.51" stroke="#FF0000" stroke-width="1.15" stroke-opacity="0.75"/>
<line x1="565.58" y1="115.74" x2="577.98" y2="115.74" stroke="#FF0000" stroke-width="1.15" stroke-opacity="0.75"/>
<line x1="642.80" y1="126.97" x2="599.52" y2="126.97" stroke="#0000FF" stroke-width="1.15" stroke-opacity="0.75"/>
<line x1="584.99" y1="138.20" x2="570.65" y2="138.20" stroke="#0000FF" stroke-width="1.15" stroke-opacity="0.75"/>
<line x1="561.62" y1="149.43" x2="572.12" y2="149.43" stroke="#FF0000" stroke-width="1.15" stroke-opacity="0.75"/>
<line x1="579.84" y1="160.66" x2="600.19" y2="160.66" stroke="#FF0000" stroke-width="1.15" stroke-opacity="0.75"/>
<line x1="598.45" y1="171.89" x2="563.45" y2="171.89" stroke="#0000FF" stroke-width="1.15" stroke-opacity="0.75"/>
<circle cx="550.26" cy="25.90" r="3.0" fill="#46A59B" stroke="#000" stroke-width="0.9"/>
<circle cx="553.03" cy="37.13" r="3.0" fill="#50B4CD" stroke="#000" stroke-width="0.9"/>
<circle cx="552.52" cy="48.36" r="3.0" fill="#5FBE64" stroke="#000" stroke-width="0.9"/>
<circle cx="556.44" cy="59.59" r="3.0" fill="#2F8650" stroke="#000" stroke-width="0.9"/>
<circle cx="558.14" cy="70.82" r="3.0" fill="#EFC270" stroke="#000" stroke-width="0.9"/>
<path d="M555.14 70.82H561.14M558.14 67.82V73.82" stroke="#000" stroke-width="0.9"/>
<circle cx="579.80" cy="82.05" r="3.0" fill="#95E989" stroke="#000" stroke-width="0.9"/>
<circle cx="559.21" cy="93.28" r="3.0" fill="#46A59B" stroke="#000" stroke-width="0.9"/>
<circle cx="560.55" cy="104.51" r="3.0" fill="#EAE58E" stroke="#000" stroke-width="0.9"/>
<path d="M557.55 104.51H563.55M560.55 101.51V107.51" stroke="#000" stroke-width="0.9"/>
<circle cx="577.98" cy="115.74" r="3.0" fill="#EAE58E" stroke="#000" stroke-width="0.9"/>
<path d="M574.98 115.74H580.98M577.98 112.74V118.74" stroke="#000" stroke-width="0.9"/>
<circle cx="599.52" cy="126.97" r="3.0" fill="#95E989" stroke="#000" stroke-width="0.9"/>
<circle cx="570.65" cy="138.20" r="3.0" fill="#EAE58E" stroke="#000" stroke-width="0.9"/>
<path d="M567.65 138.20H573.65M570.65 135.20V141.20" stroke="#000" stroke-width="0.9"/>
<circle cx="572.12" cy="149.43" r="3.0" fill="#EAE58E" stroke="#000" stroke-width="0.9"/>
<path d="M569.12 149.43H575.12M572.12 146.43V152.43" stroke="#000" stroke-width="0.9"/>
<circle cx="600.19" cy="160.66" r="3.0" fill="#95E989" stroke="#000" stroke-width="0.9"/>
<circle cx="563.45" cy="171.89" r="3.0" fill="#95E989" stroke="#000" stroke-width="0.9"/>
<text x="672.70" y="29.50" font-size="8.7" fill="#2A2A2A" text-anchor="end">4.03</text>
<text x="672.70" y="40.73" font-size="8.7" fill="#2A2A2A" text-anchor="end">4.73</text>
<text x="672.70" y="51.96" font-size="8.7" fill="#2A2A2A" text-anchor="end">4.6</text>
<text x="672.70" y="63.19" font-size="8.7" fill="#2A2A2A" text-anchor="end">5.59</text>
<text x="672.70" y="74.42" font-size="8.7" fill="#2A2A2A" text-anchor="end">6.02</text>
<text x="672.70" y="85.65" font-size="8.7" fill="#2A2A2A" text-anchor="end">11.49</text>
<text x="672.70" y="96.88" font-size="8.7" fill="#2A2A2A" text-anchor="end">6.29</text>
<text x="672.70" y="108.11" font-size="8.7" fill="#2A2A2A" text-anchor="end">6.63</text>
<text x="672.70" y="119.34" font-size="8.7" fill="#2A2A2A" text-anchor="end">11.03</text>
<text x="672.70" y="130.57" font-size="8.7" fill="#2A2A2A" text-anchor="end">16.47</text>
<text x="672.70" y="141.80" font-size="8.7" fill="#2A2A2A" text-anchor="end">9.18</text>
<text x="672.70" y="153.03" font-size="8.7" fill="#2A2A2A" text-anchor="end">9.55</text>
<text x="672.70" y="164.26" font-size="8.7" fill="#2A2A2A" text-anchor="end">16.64</text>
<text x="672.70" y="175.49" font-size="8.7" fill="#2A2A2A" text-anchor="end">7.36</text>
<text x="644.60" y="59.95" font-size="10.5" fill="#2222FA" text-anchor="end">4.73</text>
<text x="644.60" y="118.25" font-size="10.5" fill="#D8C440" text-anchor="end">8.29</text>
<text x="644.60" y="175.25" font-size="10.5" fill="#C4432E" text-anchor="end">11.84</text>
</g>
<rect x="527.70" y="19.30" width="152.00" height="159.10" fill="none" stroke="#333333" stroke-width="1.07"/>
<rect x="527.70" y="1.40" width="152.00" height="17.90" fill="#D9D9D9" stroke="#333333" stroke-width="1.07"/>
<text x="532.70" y="14.00" font-size="10.8" fill="#1A1A1A" text-anchor="start">(d)</text>
<text x="571.80" y="14.00" font-size="10.8" fill="#1A1A1A">VPD_FS (hPa)</text>
<line x1="534.30" y1="178.40" x2="534.30" y2="181.60" stroke="#333333" stroke-width="1.07"/>
<text x="534.30" y="192.60" font-size="10.8" fill="#4D4D4D" text-anchor="middle">0</text>
<line x1="573.90" y1="178.40" x2="573.90" y2="181.60" stroke="#333333" stroke-width="1.07"/>
<text x="573.90" y="192.60" font-size="10.8" fill="#4D4D4D" text-anchor="middle">10</text>
<line x1="613.50" y1="178.40" x2="613.50" y2="181.60" stroke="#333333" stroke-width="1.07"/>
<text x="613.50" y="192.60" font-size="10.8" fill="#4D4D4D" text-anchor="middle">20</text>
<line x1="653.10" y1="178.40" x2="653.10" y2="181.60" stroke="#333333" stroke-width="1.07"/>
<text x="653.10" y="192.60" font-size="10.8" fill="#4D4D4D" text-anchor="middle">30</text>
</g>
<g>
<rect x="52.20" y="218.80" width="152.00" height="159.10" fill="#FFFFFF"/>
<clipPath id="cpe"><rect x="52.20" y="218.80" width="152.00" height="159.10"/></clipPath>
<g clip-path="url(#cpe)">
<rect x="58.50" y="220.53" width="12.31" height="9.75" fill="#ADD8E6"/>
<rect x="58.50" y="231.75" width="24.61" height="9.75" fill="#ADD8E6"/>
<rect x="58.50" y="242.99" width="18.98" height="9.75" fill="#ADD8E6"/>
<rect x="58.50" y="265.44" width="43.67" height="9.75" fill="#ADD8E6"/>
<rect x="58.50" y="276.68" width="50.42" height="9.75" fill="#ADD8E6"/>
<rect x="58.50" y="287.90" width="34.14" height="9.75" fill="#ADD8E6"/>
<rect x="58.50" y="299.13" width="49.23" height="9.75" fill="#ADD8E6"/>
<rect x="58.50" y="310.37" width="44.86" height="9.75" fill="#ADD8E6"/>
<rect x="58.50" y="321.60" width="101.24" height="9.75" fill="#ADD8E6"/>
<rect x="58.50" y="332.83" width="75.83" height="9.75" fill="#ADD8E6"/>
<rect x="58.50" y="344.06" width="83.37" height="9.75" fill="#ADD8E6"/>
<rect x="58.50" y="355.28" width="54.79" height="9.75" fill="#ADD8E6"/>
<rect x="58.50" y="366.51" width="83.97" height="9.75" fill="#ADD8E6"/>
<line x1="52.20" y1="264.70" x2="204.20" y2="264.70" stroke="#000" stroke-width="1.1" stroke-dasharray="3.7 4.07"/>
<line x1="52.20" y1="320.86" x2="204.20" y2="320.86" stroke="#000" stroke-width="1.1" stroke-dasharray="3.7 4.07"/>
<line x1="70.81" y1="225.40" x2="75.07" y2="225.40" stroke="#FF0000" stroke-width="1.05"/>
<line x1="83.11" y1="236.63" x2="86.68" y2="236.63" stroke="#FF0000" stroke-width="1.05"/>
<line x1="77.48" y1="247.86" x2="73.93" y2="247.86" stroke="#0000FF" stroke-width="1.05"/>
<line x1="102.17" y1="270.32" x2="102.57" y2="270.32" stroke="#FF0000" stroke-width="1.05"/>
<line x1="108.92" y1="281.55" x2="114.95" y2="281.55" stroke="#FF0000" stroke-width="1.05"/>
<line x1="92.64" y1="292.78" x2="104.06" y2="292.78" stroke="#FF0000" stroke-width="1.05"/>
<line x1="107.73" y1="304.01" x2="120.15" y2="304.01" stroke="#FF0000" stroke-width="1.05"/>
<line x1="103.36" y1="315.24" x2="113.39" y2="315.24" stroke="#FF0000" stroke-width="1.05"/>
<line x1="159.74" y1="326.47" x2="141.28" y2="326.47" stroke="#0000FF" stroke-width="1.05"/>
<line x1="134.33" y1="337.70" x2="119.78" y2="337.70" stroke="#0000FF" stroke-width="1.05"/>
<line x1="141.87" y1="348.93" x2="150.39" y2="348.93" stroke="#FF0000" stroke-width="1.05"/>
<line x1="113.29" y1="360.16" x2="127.27" y2="360.16" stroke="#FF0000" stroke-width="1.05"/>
<line x1="142.47" y1="371.39" x2="132.44" y2="371.39" stroke="#0000FF" stroke-width="1.05"/>
<rect x="97.01" y="268.02" width="11.91" height="4.60" fill="rgba(222,0,22,0.45)"/>
<rect x="108.92" y="279.25" width="13.50" height="4.60" fill="rgba(222,0,22,0.45)"/>
<rect x="116.46" y="301.71" width="9.53" height="4.60" fill="rgba(222,0,22,0.45)"/>
<rect x="108.92" y="312.94" width="11.91" height="4.60" fill="rgba(222,0,22,0.45)"/>
<rect x="134.33" y="324.17" width="14.69" height="4.60" fill="rgba(222,0,22,0.45)"/>
<rect x="113.29" y="335.40" width="12.31" height="4.60" fill="rgba(222,0,22,0.45)"/>
<rect x="123.61" y="357.86" width="11.51" height="4.60" fill="rgba(222,0,22,0.45)"/>
<rect x="125.59" y="369.09" width="13.50" height="4.60" fill="rgba(222,0,22,0.45)"/>
<line x1="70.81" y1="225.40" x2="75.07" y2="225.40" stroke="#FF0000" stroke-width="1.15" stroke-opacity="0.75"/>
<line x1="83.11" y1="236.63" x2="86.68" y2="236.63" stroke="#FF0000" stroke-width="1.15" stroke-opacity="0.75"/>
<line x1="77.48" y1="247.86" x2="73.93" y2="247.86" stroke="#0000FF" stroke-width="1.15" stroke-opacity="0.75"/>
<line x1="102.17" y1="270.32" x2="102.57" y2="270.32" stroke="#FF0000" stroke-width="1.15" stroke-opacity="0.75"/>
<line x1="108.92" y1="281.55" x2="114.95" y2="281.55" stroke="#FF0000" stroke-width="1.15" stroke-opacity="0.75"/>
<line x1="92.64" y1="292.78" x2="104.06" y2="292.78" stroke="#FF0000" stroke-width="1.15" stroke-opacity="0.75"/>
<line x1="107.73" y1="304.01" x2="120.15" y2="304.01" stroke="#FF0000" stroke-width="1.15" stroke-opacity="0.75"/>
<line x1="103.36" y1="315.24" x2="113.39" y2="315.24" stroke="#FF0000" stroke-width="1.15" stroke-opacity="0.75"/>
<line x1="159.74" y1="326.47" x2="141.28" y2="326.47" stroke="#0000FF" stroke-width="1.15" stroke-opacity="0.75"/>
<line x1="134.33" y1="337.70" x2="119.78" y2="337.70" stroke="#0000FF" stroke-width="1.15" stroke-opacity="0.75"/>
<line x1="141.87" y1="348.93" x2="150.39" y2="348.93" stroke="#FF0000" stroke-width="1.15" stroke-opacity="0.75"/>
<line x1="113.29" y1="360.16" x2="127.27" y2="360.16" stroke="#FF0000" stroke-width="1.15" stroke-opacity="0.75"/>
<line x1="142.47" y1="371.39" x2="132.44" y2="371.39" stroke="#0000FF" stroke-width="1.15" stroke-opacity="0.75"/>
<circle cx="75.07" cy="225.40" r="3.0" fill="#40A055" stroke="#000" stroke-width="0.9"/>
<circle cx="86.68" cy="236.63" r="3.0" fill="#E9A446" stroke="#000" stroke-width="0.9"/>
<path d="M83.68 236.63H89.68M86.68 233.63V239.63" stroke="#000" stroke-width="0.9"/>
<circle cx="73.93" cy="247.86" r="3.0" fill="#5FBE64" stroke="#000" stroke-width="0.9"/>
<circle cx="102.57" cy="270.32" r="3.0" fill="#EAE58E" stroke="#000" stroke-width="0.9"/>
<path d="M99.57 270.32H105.57M102.57 267.32V273.32" stroke="#000" stroke-width="0.9"/>
<circle cx="114.95" cy="281.55" r="3.0" fill="#EAE58E" stroke="#000" stroke-width="0.9"/>
<path d="M111.95 281.55H117.95M114.95 278.55V284.55" stroke="#000" stroke-width="0.9"/>
<circle cx="104.06" cy="292.78" r="3.0" fill="#EAE58E" stroke="#000" stroke-width="0.9"/>
<path d="M101.06 292.78H107.06M104.06 289.78V295.78" stroke="#000" stroke-width="0.9"/>
<circle cx="120.15" cy="304.01" r="3.0" fill="#95E989" stroke="#000" stroke-width="0.9"/>
<circle cx="113.39" cy="315.24" r="3.0" fill="#EAE58E" stroke="#000" stroke-width="0.9"/>
<path d="M110.39 315.24H116.39M113.39 312.24V318.24" stroke="#000" stroke-width="0.9"/>
<circle cx="141.28" cy="326.47" r="3.0" fill="#E0552C" stroke="#000" stroke-width="0.9"/>
<path d="M138.28 326.47H144.28M141.28 323.47V329.47" stroke="#000" stroke-width="0.9"/>
<circle cx="119.78" cy="337.70" r="3.0" fill="#5FBE64" stroke="#000" stroke-width="0.9"/>
<circle cx="150.39" cy="348.93" r="3.0" fill="#95E989" stroke="#000" stroke-width="0.9"/>
<circle cx="127.27" cy="360.16" r="3.0" fill="#EAE58E" stroke="#000" stroke-width="0.9"/>
<path d="M124.27 360.16H130.27M127.27 357.16V363.16" stroke="#000" stroke-width="0.9"/>
<circle cx="132.44" cy="371.39" r="3.0" fill="#EAE58E" stroke="#000" stroke-width="0.9"/>
<path d="M129.44 371.39H135.44M132.44 368.39V374.39" stroke="#000" stroke-width="0.9"/>
<text x="197.20" y="229.00" font-size="8.7" fill="#2A2A2A" text-anchor="end">41.75</text>
<text x="197.20" y="240.23" font-size="8.7" fill="#2A2A2A" text-anchor="end">70.99</text>
<text x="197.20" y="251.46" font-size="8.7" fill="#2A2A2A" text-anchor="end">38.86</text>
<text x="197.20" y="273.92" font-size="8.7" fill="#2A2A2A" text-anchor="end">111</text>
<text x="197.20" y="285.15" font-size="8.7" fill="#2A2A2A" text-anchor="end">142.18</text>
<text x="197.20" y="296.38" font-size="8.7" fill="#2A2A2A" text-anchor="end">114.77</text>
<text x="197.20" y="307.61" font-size="8.7" fill="#2A2A2A" text-anchor="end">155.28</text>
<text x="197.20" y="318.84" font-size="8.7" fill="#2A2A2A" text-anchor="end">138.26</text>
<text x="197.20" y="330.07" font-size="8.7" fill="#2A2A2A" text-anchor="end">208.51</text>
<text x="197.20" y="341.30" font-size="8.7" fill="#2A2A2A" text-anchor="end">154.37</text>
<text x="197.20" y="352.53" font-size="8.7" fill="#2A2A2A" text-anchor="end">231.47</text>
<text x="197.20" y="363.76" font-size="8.7" fill="#2A2A2A" text-anchor="end">173.23</text>
<text x="197.20" y="374.99" font-size="8.7" fill="#2A2A2A" text-anchor="end">186.25</text>
<text x="168.90" y="259.55" font-size="10.5" fill="#2222FA" text-anchor="end">50.53</text>
<text x="168.90" y="317.65" font-size="10.5" fill="#D8C440" text-anchor="end">132.29</text>
<text x="169.60" y="364.85" font-size="10.5" fill="#C4432E" text-anchor="end">190.76</text>
</g>
<rect x="52.20" y="218.80" width="152.00" height="159.10" fill="none" stroke="#333333" stroke-width="1.07"/>
<rect x="52.20" y="200.90" width="152.00" height="17.90" fill="#D9D9D9" stroke="#333333" stroke-width="1.07"/>
<text x="55.00" y="213.50" font-size="10.8" fill="#1A1A1A" text-anchor="start">(e)</text>
<text x="89.20" y="213.50" font-size="10.8" fill="#1A1A1A">Tem_PFS (°C)</text>
<line x1="49.10" y1="225.40" x2="52.20" y2="225.40" stroke="#333333" stroke-width="1.07"/>
<text x="46.40" y="230.00" font-size="10.8" fill="#4D4D4D" text-anchor="end">Polar</text>
<line x1="49.10" y1="236.63" x2="52.20" y2="236.63" stroke="#333333" stroke-width="1.07"/>
<text x="46.40" y="241.23" font-size="10.8" fill="#4D4D4D" text-anchor="end">BRCF</text>
<line x1="49.10" y1="247.86" x2="52.20" y2="247.86" stroke="#333333" stroke-width="1.07"/>
<text x="46.40" y="252.46" font-size="10.8" fill="#4D4D4D" text-anchor="end">BRMS</text>
<line x1="49.10" y1="259.09" x2="52.20" y2="259.09" stroke="#333333" stroke-width="1.07"/>
<text x="46.40" y="263.69" font-size="10.8" fill="#4D4D4D" text-anchor="end">BRTW</text>
<line x1="49.10" y1="270.32" x2="52.20" y2="270.32" stroke="#333333" stroke-width="1.07"/>
<text x="46.40" y="274.92" font-size="10.8" fill="#4D4D4D" text-anchor="end">TPCF</text>
<line x1="49.10" y1="281.55" x2="52.20" y2="281.55" stroke="#333333" stroke-width="1.07"/>
<text x="46.40" y="286.15" font-size="10.8" fill="#4D4D4D" text-anchor="end">TPDT</text>
<line x1="49.10" y1="292.78" x2="52.20" y2="292.78" stroke="#333333" stroke-width="1.07"/>
<text x="46.40" y="297.38" font-size="10.8" fill="#4D4D4D" text-anchor="end">TPMS</text>
<line x1="49.10" y1="304.01" x2="52.20" y2="304.01" stroke="#333333" stroke-width="1.07"/>
<text x="46.40" y="308.61" font-size="10.8" fill="#4D4D4D" text-anchor="end">TPOF</text>
<line x1="49.10" y1="315.24" x2="52.20" y2="315.24" stroke="#333333" stroke-width="1.07"/>
<text x="46.40" y="319.84" font-size="10.8" fill="#4D4D4D" text-anchor="end">TPST</text>
<line x1="49.10" y1="326.47" x2="52.20" y2="326.47" stroke="#333333" stroke-width="1.07"/>
<text x="46.40" y="331.07" font-size="10.8" fill="#4D4D4D" text-anchor="end">STDT</text>
<line x1="49.10" y1="337.70" x2="52.20" y2="337.70" stroke="#333333" stroke-width="1.07"/>
<text x="46.40" y="342.30" font-size="10.8" fill="#4D4D4D" text-anchor="end">STDF</text>
<line x1="49.10" y1="348.93" x2="52.20" y2="348.93" stroke="#333333" stroke-width="1.07"/>
<text x="46.40" y="353.53" font-size="10.8" fill="#4D4D4D" text-anchor="end">STHF</text>
<line x1="49.10" y1="360.16" x2="52.20" y2="360.16" stroke="#333333" stroke-width="1.07"/>
<text x="46.40" y="364.76" font-size="10.8" fill="#4D4D4D" text-anchor="end">STMS</text>
<line x1="49.10" y1="371.39" x2="52.20" y2="371.39" stroke="#333333" stroke-width="1.07"/>
<text x="46.40" y="375.99" font-size="10.8" fill="#4D4D4D" text-anchor="end">STST</text>
<line x1="58.50" y1="377.90" x2="58.50" y2="381.10" stroke="#333333" stroke-width="1.07"/>
<text x="58.50" y="392.10" font-size="10.8" fill="#4D4D4D" text-anchor="middle">0</text>
<line x1="98.20" y1="377.90" x2="98.20" y2="381.10" stroke="#333333" stroke-width="1.07"/>
<text x="98.20" y="392.10" font-size="10.8" fill="#4D4D4D" text-anchor="middle">100</text>
<line x1="137.90" y1="377.90" x2="137.90" y2="381.10" stroke="#333333" stroke-width="1.07"/>
<text x="137.90" y="392.10" font-size="10.8" fill="#4D4D4D" text-anchor="middle">200</text>
<line x1="177.60" y1="377.90" x2="177.60" y2="381.10" stroke="#333333" stroke-width="1.07"/>
<text x="177.60" y="392.10" font-size="10.8" fill="#4D4D4D" text-anchor="middle">300</text>
</g>
<g>
<rect x="210.70" y="218.80" width="152.00" height="159.10" fill="#FFFFFF"/>
<clipPath id="cpf"><rect x="210.70" y="218.80" width="152.00" height="159.10"/></clipPath>
<g clip-path="url(#cpf)">
<rect x="217.20" y="220.53" width="28.41" height="9.75" fill="#ADD8E6"/>
<rect x="217.20" y="231.75" width="32.84" height="9.75" fill="#ADD8E6"/>
<rect x="217.20" y="242.99" width="30.18" height="9.75" fill="#ADD8E6"/>
<rect x="217.20" y="254.22" width="29.52" height="9.75" fill="#ADD8E6"/>
<rect x="217.20" y="265.44" width="40.54" height="9.75" fill="#ADD8E6"/>
<rect x="217.20" y="276.68" width="15.12" height="9.75" fill="#ADD8E6"/>
<rect x="217.20" y="287.90" width="50.89" height="9.75" fill="#ADD8E6"/>
<rect x="217.20" y="299.13" width="62.63" height="9.75" fill="#ADD8E6"/>
<rect x="217.20" y="310.37" width="27.69" height="9.75" fill="#ADD8E6"/>
<rect x="217.20" y="321.60" width="11.85" height="9.75" fill="#ADD8E6"/>
<rect x="217.20" y="332.83" width="37.82" height="9.75" fill="#ADD8E6"/>
<rect x="217.20" y="355.28" width="41.65" height="9.75" fill="#ADD8E6"/>
<rect x="217.20" y="366.51" width="31.68" height="9.75" fill="#ADD8E6"/>
<line x1="210.70" y1="264.70" x2="362.70" y2="264.70" stroke="#000" stroke-width="1.1" stroke-dasharray="3.7 4.07"/>
<line x1="210.70" y1="320.86" x2="362.70" y2="320.86" stroke="#000" stroke-width="1.1" stroke-dasharray="3.7 4.07"/>
<line x1="245.61" y1="225.40" x2="245.37" y2="225.40" stroke="#0000FF" stroke-width="1.05"/>
<line x1="250.04" y1="236.63" x2="262.13" y2="236.63" stroke="#FF0000" stroke-width="1.05"/>
<line x1="247.38" y1="247.86" x2="249.78" y2="247.86" stroke="#FF0000" stroke-width="1.05"/>
<line x1="246.72" y1="259.09" x2="266.87" y2="259.09" stroke="#FF0000" stroke-width="1.05"/>
<line x1="257.74" y1="270.32" x2="248.91" y2="270.32" stroke="#0000FF" stroke-width="1.05"/>
<line x1="232.32" y1="281.55" x2="234.00" y2="281.55" stroke="#FF0000" stroke-width="1.05"/>
<line x1="268.09" y1="292.78" x2="264.74" y2="292.78" stroke="#0000FF" stroke-width="1.05"/>
<line x1="279.83" y1="304.01" x2="309.23" y2="304.01" stroke="#FF0000" stroke-width="1.05"/>
<line x1="244.89" y1="315.24" x2="237.71" y2="315.24" stroke="#0000FF" stroke-width="1.05"/>
<line x1="229.05" y1="326.47" x2="236.98" y2="326.47" stroke="#FF0000" stroke-width="1.05"/>
<line x1="255.02" y1="337.70" x2="278.80" y2="337.70" stroke="#FF0000" stroke-width="1.05"/>
<line x1="258.85" y1="360.16" x2="248.37" y2="360.16" stroke="#0000FF" stroke-width="1.05"/>
<line x1="248.88" y1="371.39" x2="242.83" y2="371.39" stroke="#0000FF" stroke-width="1.05"/>
<rect x="241.18" y="223.10" width="8.86" height="4.60" fill="rgba(222,0,22,0.45)"/>
<rect x="257.74" y="234.33" width="11.02" height="4.60" fill="rgba(222,0,22,0.45)"/>
<rect x="244.89" y="245.56" width="7.75" height="4.60" fill="rgba(222,0,22,0.45)"/>
<rect x="263.33" y="256.79" width="9.86" height="4.60" fill="rgba(222,0,22,0.45)"/>
<rect x="229.72" y="279.25" width="9.25" height="4.60" fill="rgba(222,0,22,0.45)"/>
<rect x="251.04" y="290.48" width="27.75" height="4.60" fill="rgba(222,0,22,0.45)"/>
<rect x="299.77" y="301.71" width="18.72" height="4.60" fill="rgba(222,0,22,0.45)"/>
<rect x="274.30" y="335.40" width="9.91" height="4.60" fill="rgba(222,0,22,0.45)"/>
<rect x="234.15" y="357.86" width="29.19" height="4.60" fill="rgba(222,0,22,0.45)"/>
<rect x="236.75" y="369.09" width="12.13" height="4.60" fill="rgba(222,0,22,0.45)"/>
<line x1="245.61" y1="225.40" x2="245.37" y2="225.40" stroke="#0000FF" stroke-width="1.15" stroke-opacity="0.75"/>
<line x1="250.04" y1="236.63" x2="262.13" y2="236.63" stroke="#FF0000" stroke-width="1.15" stroke-opacity="0.75"/>
<line x1="247.38" y1="247.86" x2="249.78" y2="247.86" stroke="#FF0000" stroke-width="1.15" stroke-opacity="0.75"/>
<line x1="246.72" y1="259.09" x2="266.87" y2="259.09" stroke="#FF0000" stroke-width="1.15" stroke-opacity="0.75"/>
<line x1="257.74" y1="270.32" x2="248.91" y2="270.32" stroke="#0000FF" stroke-width="1.15" stroke-opacity="0.75"/>
<line x1="232.32" y1="281.55" x2="234.00" y2="281.55" stroke="#FF0000" stroke-width="1.15" stroke-opacity="0.75"/>
<line x1="268.09" y1="292.78" x2="264.74" y2="292.78" stroke="#0000FF" stroke-width="1.15" stroke-opacity="0.75"/>
<line x1="279.83" y1="304.01" x2="309.23" y2="304.01" stroke="#FF0000" stroke-width="1.15" stroke-opacity="0.75"/>
<line x1="244.89" y1="315.24" x2="237.71" y2="315.24" stroke="#0000FF" stroke-width="1.15" stroke-opacity="0.75"/>
<line x1="229.05" y1="326.47" x2="236.98" y2="326.47" stroke="#FF0000" stroke-width="1.15" stroke-opacity="0.75"/>
<line x1="255.02" y1="337.70" x2="278.80" y2="337.70" stroke="#FF0000" stroke-width="1.15" stroke-opacity="0.75"/>
<line x1="258.85" y1="360.16" x2="248.37" y2="360.16" stroke="#0000FF" stroke-width="1.15" stroke-opacity="0.75"/>
<line x1="248.88" y1="371.39" x2="242.83" y2="371.39" stroke="#0000FF" stroke-width="1.15" stroke-opacity="0.75"/>
<circle cx="245.37" cy="225.40" r="3.0" fill="#95E989" stroke="#000" stroke-width="0.9"/>
<circle cx="262.13" cy="236.63" r="3.0" fill="#EAE58E" stroke="#000" stroke-width="0.9"/>
<path d="M259.13 236.63H265.13M262.13 233.63V239.63" stroke="#000" stroke-width="0.9"/>
<circle cx="249.78" cy="247.86" r="3.0" fill="#EAE58E" stroke="#000" stroke-width="0.9"/>
<path d="M246.78 247.86H252.78M249.78 244.86V250.86" stroke="#000" stroke-width="0.9"/>
<circle cx="266.87" cy="259.09" r="3.0" fill="#95E989" stroke="#000" stroke-width="0.9"/>
<circle cx="248.91" cy="270.32" r="3.0" fill="#EAE58E" stroke="#000" stroke-width="0.9"/>
<path d="M245.91 270.32H251.91M248.91 267.32V273.32" stroke="#000" stroke-width="0.9"/>
<circle cx="234.00" cy="281.55" r="3.0" fill="#EAE58E" stroke="#000" stroke-width="0.9"/>
<path d="M231.00 281.55H237.00M234.00 278.55V284.55" stroke="#000" stroke-width="0.9"/>
<circle cx="264.74" cy="292.78" r="3.0" fill="#EAE58E" stroke="#000" stroke-width="0.9"/>
<path d="M261.74 292.78H267.74M264.74 289.78V295.78" stroke="#000" stroke-width="0.9"/>
<circle cx="309.23" cy="304.01" r="3.0" fill="#D8EE9A" stroke="#000" stroke-width="0.9"/>
<path d="M306.23 304.01H312.23M309.23 301.01V307.01" stroke="#000" stroke-width="0.9"/>
<circle cx="237.71" cy="315.24" r="3.0" fill="#E9A446" stroke="#000" stroke-width="0.9"/>
<path d="M234.71 315.24H240.71M237.71 312.24V318.24" stroke="#000" stroke-width="0.9"/>
<circle cx="236.98" cy="326.47" r="3.0" fill="#E0552C" stroke="#000" stroke-width="0.9"/>
<path d="M233.98 326.47H239.98M236.98 323.47V329.47" stroke="#000" stroke-width="0.9"/>
<circle cx="278.80" cy="337.70" r="3.0" fill="#95E989" stroke="#000" stroke-width="0.9"/>
<circle cx="248.37" cy="360.16" r="3.0" fill="#D8EE9A" stroke="#000" stroke-width="0.9"/>
<path d="M245.37 360.16H251.37M248.37 357.16V363.16" stroke="#000" stroke-width="0.9"/>
<circle cx="242.83" cy="371.39" r="3.0" fill="#95E989" stroke="#000" stroke-width="0.9"/>
<text x="355.70" y="229.00" font-size="8.7" fill="#2A2A2A" text-anchor="end">508.67</text>
<text x="355.70" y="240.23" font-size="8.7" fill="#2A2A2A" text-anchor="end">811.36</text>
<text x="355.70" y="251.46" font-size="8.7" fill="#2A2A2A" text-anchor="end">588.37</text>
<text x="355.70" y="262.69" font-size="8.7" fill="#2A2A2A" text-anchor="end">896.87</text>
<text x="355.70" y="273.92" font-size="8.7" fill="#2A2A2A" text-anchor="end">572.59</text>
<text x="355.70" y="285.15" font-size="8.7" fill="#2A2A2A" text-anchor="end">303.39</text>
<text x="355.70" y="296.38" font-size="8.7" fill="#2A2A2A" text-anchor="end">858.45</text>
<text x="355.70" y="307.61" font-size="8.7" fill="#2A2A2A" text-anchor="end">1661.75</text>
<text x="355.70" y="318.84" font-size="8.7" fill="#2A2A2A" text-anchor="end">370.38</text>
<text x="355.70" y="330.07" font-size="8.7" fill="#2A2A2A" text-anchor="end">357.22</text>
<text x="355.70" y="341.30" font-size="8.7" fill="#2A2A2A" text-anchor="end">1112.35</text>
<text x="355.70" y="363.76" font-size="8.7" fill="#2A2A2A" text-anchor="end">562.86</text>
<text x="355.70" y="374.99" font-size="8.7" fill="#2A2A2A" text-anchor="end">462.73</text>
<text x="323.60" y="259.55" font-size="10.5" fill="#2222FA" text-anchor="end">701.31</text>
<text x="324.00" y="316.75" font-size="10.5" fill="#D8C440" text-anchor="end">753.31</text>
<text x="323.10" y="373.75" font-size="10.5" fill="#C4432E" text-anchor="end">623.79</text>
</g>
<rect x="210.70" y="218.80" width="152.00" height="159.10" fill="none" stroke="#333333" stroke-width="1.07"/>
<rect x="210.70" y="200.90" width="152.00" height="17.90" fill="#D9D9D9" stroke="#333333" stroke-width="1.07"/>
<text x="213.40" y="213.50" font-size="10.8" fill="#1A1A1A" text-anchor="start">(f)</text>
<text x="251.80" y="213.50" font-size="10.8" fill="#1A1A1A">Pre_PFS (mm)</text>
<line x1="217.20" y1="377.90" x2="217.20" y2="381.10" stroke="#333333" stroke-width="1.07"/>
<text x="217.20" y="392.10" font-size="10.8" fill="#4D4D4D" text-anchor="middle">0</text>
<line x1="244.89" y1="377.90" x2="244.89" y2="381.10" stroke="#333333" stroke-width="1.07"/>
<text x="244.89" y="392.10" font-size="10.8" fill="#4D4D4D" text-anchor="middle">500</text>
<line x1="272.58" y1="377.90" x2="272.58" y2="381.10" stroke="#333333" stroke-width="1.07"/>
<text x="272.58" y="392.10" font-size="10.8" fill="#4D4D4D" text-anchor="middle">1000</text>
<line x1="300.27" y1="377.90" x2="300.27" y2="381.10" stroke="#333333" stroke-width="1.07"/>
<text x="300.27" y="392.10" font-size="10.8" fill="#4D4D4D" text-anchor="middle">1500</text>
<line x1="327.96" y1="377.90" x2="327.96" y2="381.10" stroke="#333333" stroke-width="1.07"/>
<text x="327.96" y="392.10" font-size="10.8" fill="#4D4D4D" text-anchor="middle">2000</text>
<line x1="355.65" y1="377.90" x2="355.65" y2="381.10" stroke="#333333" stroke-width="1.07"/>
<text x="355.65" y="392.10" font-size="10.8" fill="#4D4D4D" text-anchor="middle">2500</text>
</g>
<g>
<rect x="369.20" y="218.80" width="152.00" height="159.10" fill="#FFFFFF"/>
<clipPath id="cpg"><rect x="369.20" y="218.80" width="152.00" height="159.10"/></clipPath>
<g clip-path="url(#cpg)">
<rect x="375.50" y="220.53" width="29.95" height="9.75" fill="#ADD8E6"/>
<rect x="375.50" y="231.75" width="61.13" height="9.75" fill="#ADD8E6"/>
<rect x="375.50" y="242.99" width="54.34" height="9.75" fill="#ADD8E6"/>
<rect x="375.50" y="254.22" width="42.61" height="9.75" fill="#ADD8E6"/>
<rect x="375.50" y="265.44" width="47.24" height="9.75" fill="#ADD8E6"/>
<rect x="375.50" y="276.68" width="13.28" height="9.75" fill="#ADD8E6"/>
<rect x="375.50" y="287.90" width="44.15" height="9.75" fill="#ADD8E6"/>
<rect x="375.50" y="299.13" width="63.91" height="9.75" fill="#ADD8E6"/>
<rect x="375.50" y="310.37" width="23.46" height="9.75" fill="#ADD8E6"/>
<rect x="375.50" y="321.60" width="8.64" height="9.75" fill="#ADD8E6"/>
<rect x="375.50" y="332.83" width="31.49" height="9.75" fill="#ADD8E6"/>
<rect x="375.50" y="344.06" width="65.45" height="9.75" fill="#ADD8E6"/>
<rect x="375.50" y="355.28" width="25.63" height="9.75" fill="#ADD8E6"/>
<rect x="375.50" y="366.51" width="17.29" height="9.75" fill="#ADD8E6"/>
<line x1="369.20" y1="264.70" x2="521.20" y2="264.70" stroke="#000" stroke-width="1.1" stroke-dasharray="3.7 4.07"/>
<line x1="369.20" y1="320.86" x2="521.20" y2="320.86" stroke="#000" stroke-width="1.1" stroke-dasharray="3.7 4.07"/>
<line x1="405.45" y1="225.40" x2="406.38" y2="225.40" stroke="#FF0000" stroke-width="1.05"/>
<line x1="436.63" y1="236.63" x2="453.00" y2="236.63" stroke="#FF0000" stroke-width="1.05"/>
<line x1="429.84" y1="247.86" x2="417.49" y2="247.86" stroke="#0000FF" stroke-width="1.05"/>
<line x1="418.11" y1="259.09" x2="428.61" y2="259.09" stroke="#FF0000" stroke-width="1.05"/>
<line x1="422.74" y1="270.32" x2="400.51" y2="270.32" stroke="#0000FF" stroke-width="1.05"/>
<line x1="388.78" y1="281.55" x2="394.95" y2="281.55" stroke="#FF0000" stroke-width="1.05"/>
<line x1="419.65" y1="292.78" x2="458.86" y2="292.78" stroke="#FF0000" stroke-width="1.05"/>
<line x1="439.41" y1="304.01" x2="448.98" y2="304.01" stroke="#FF0000" stroke-width="1.05"/>
<line x1="398.96" y1="315.24" x2="398.35" y2="315.24" stroke="#0000FF" stroke-width="1.05"/>
<line x1="384.14" y1="326.47" x2="391.86" y2="326.47" stroke="#FF0000" stroke-width="1.05"/>
<line x1="406.99" y1="337.70" x2="436.94" y2="337.70" stroke="#FF0000" stroke-width="1.05"/>
<line x1="440.95" y1="348.93" x2="466.89" y2="348.93" stroke="#FF0000" stroke-width="1.05"/>
<line x1="401.13" y1="360.16" x2="441.26" y2="360.16" stroke="#FF0000" stroke-width="1.05"/>
<line x1="392.79" y1="371.39" x2="409.15" y2="371.39" stroke="#FF0000" stroke-width="1.05"/>
<rect x="399.89" y="223.10" width="12.97" height="4.60" fill="rgba(222,0,22,0.45)"/>
<rect x="445.59" y="234.33" width="14.82" height="4.60" fill="rgba(222,0,22,0.45)"/>
<rect x="410.70" y="245.56" width="14.82" height="4.60" fill="rgba(222,0,22,0.45)"/>
<rect x="419.96" y="256.79" width="17.29" height="4.60" fill="rgba(222,0,22,0.45)"/>
<rect x="386.31" y="268.02" width="28.71" height="4.60" fill="rgba(222,0,22,0.45)"/>
<rect x="444.04" y="290.48" width="29.64" height="4.60" fill="rgba(222,0,22,0.45)"/>
<rect x="437.87" y="301.71" width="22.54" height="4.60" fill="rgba(222,0,22,0.45)"/>
<rect x="423.36" y="335.40" width="27.79" height="4.60" fill="rgba(222,0,22,0.45)"/>
<rect x="447.75" y="346.63" width="37.67" height="4.60" fill="rgba(222,0,22,0.45)"/>
<rect x="427.68" y="357.86" width="27.48" height="4.60" fill="rgba(222,0,22,0.45)"/>
<rect x="402.36" y="369.09" width="14.20" height="4.60" fill="rgba(222,0,22,0.45)"/>
<line x1="405.45" y1="225.40" x2="406.38" y2="225.40" stroke="#FF0000" stroke-width="1.15" stroke-opacity="0.75"/>
<line x1="436.63" y1="236.63" x2="453.00" y2="236.63" stroke="#FF0000" stroke-width="1.15" stroke-opacity="0.75"/>
<line x1="429.84" y1="247.86" x2="417.49" y2="247.86" stroke="#0000FF" stroke-width="1.15" stroke-opacity="0.75"/>
<line x1="418.11" y1="259.09" x2="428.61" y2="259.09" stroke="#FF0000" stroke-width="1.15" stroke-opacity="0.75"/>
<line x1="422.74" y1="270.32" x2="400.51" y2="270.32" stroke="#0000FF" stroke-width="1.15" stroke-opacity="0.75"/>
<line x1="388.78" y1="281.55" x2="394.95" y2="281.55" stroke="#FF0000" stroke-width="1.15" stroke-opacity="0.75"/>
<line x1="419.65" y1="292.78" x2="458.86" y2="292.78" stroke="#FF0000" stroke-width="1.15" stroke-opacity="0.75"/>
<line x1="439.41" y1="304.01" x2="448.98" y2="304.01" stroke="#FF0000" stroke-width="1.15" stroke-opacity="0.75"/>
<line x1="398.96" y1="315.24" x2="398.35" y2="315.24" stroke="#0000FF" stroke-width="1.15" stroke-opacity="0.75"/>
<line x1="384.14" y1="326.47" x2="391.86" y2="326.47" stroke="#FF0000" stroke-width="1.15" stroke-opacity="0.75"/>
<line x1="406.99" y1="337.70" x2="436.94" y2="337.70" stroke="#FF0000" stroke-width="1.15" stroke-opacity="0.75"/>
<line x1="440.95" y1="348.93" x2="466.89" y2="348.93" stroke="#FF0000" stroke-width="1.15" stroke-opacity="0.75"/>
<line x1="401.13" y1="360.16" x2="441.26" y2="360.16" stroke="#FF0000" stroke-width="1.15" stroke-opacity="0.75"/>
<line x1="392.79" y1="371.39" x2="409.15" y2="371.39" stroke="#FF0000" stroke-width="1.15" stroke-opacity="0.75"/>
<circle cx="406.38" cy="225.40" r="3.0" fill="#40A055" stroke="#000" stroke-width="0.9"/>
<circle cx="453.00" cy="236.63" r="3.0" fill="#D8EE9A" stroke="#000" stroke-width="0.9"/>
<path d="M450.00 236.63H456.00M453.00 233.63V239.63" stroke="#000" stroke-width="0.9"/>
<circle cx="417.49" cy="247.86" r="3.0" fill="#95E989" stroke="#000" stroke-width="0.9"/>
<circle cx="428.61" cy="259.09" r="3.0" fill="#95E989" stroke="#000" stroke-width="0.9"/>
<circle cx="400.51" cy="270.32" r="3.0" fill="#D8EE9A" stroke="#000" stroke-width="0.9"/>
<path d="M397.51 270.32H403.51M400.51 267.32V273.32" stroke="#000" stroke-width="0.9"/>
<circle cx="394.95" cy="281.55" r="3.0" fill="#8E1B16" stroke="#000" stroke-width="0.9"/>
<path d="M391.95 281.55H397.95M394.95 278.55V284.55" stroke="#000" stroke-width="0.9"/>
<circle cx="458.86" cy="292.78" r="3.0" fill="#D8EE9A" stroke="#000" stroke-width="0.9"/>
<path d="M455.86 292.78H461.86M458.86 289.78V295.78" stroke="#000" stroke-width="0.9"/>
<circle cx="448.98" cy="304.01" r="3.0" fill="#95E989" stroke="#000" stroke-width="0.9"/>
<circle cx="398.35" cy="315.24" r="3.0" fill="#E9A446" stroke="#000" stroke-width="0.9"/>
<path d="M395.35 315.24H401.35M398.35 312.24V318.24" stroke="#000" stroke-width="0.9"/>
<circle cx="391.86" cy="326.47" r="3.0" fill="#95E989" stroke="#000" stroke-width="0.9"/>
<circle cx="436.94" cy="337.70" r="3.0" fill="#95E989" stroke="#000" stroke-width="0.9"/>
<circle cx="466.89" cy="348.93" r="3.0" fill="#95E989" stroke="#000" stroke-width="0.9"/>
<circle cx="441.26" cy="360.16" r="3.0" fill="#D8EE9A" stroke="#000" stroke-width="0.9"/>
<path d="M438.26 360.16H444.26M441.26 357.16V363.16" stroke="#000" stroke-width="0.9"/>
<circle cx="409.15" cy="371.39" r="3.0" fill="#2F8650" stroke="#000" stroke-width="0.9"/>
<text x="514.20" y="229.00" font-size="8.7" fill="#2A2A2A" text-anchor="end">1</text>
<text x="514.20" y="240.23" font-size="8.7" fill="#2A2A2A" text-anchor="end">2.51</text>
<text x="514.20" y="251.46" font-size="8.7" fill="#2A2A2A" text-anchor="end">1.36</text>
<text x="514.20" y="262.69" font-size="8.7" fill="#2A2A2A" text-anchor="end">1.72</text>
<text x="514.20" y="273.92" font-size="8.7" fill="#2A2A2A" text-anchor="end">0.81</text>
<text x="514.20" y="285.15" font-size="8.7" fill="#2A2A2A" text-anchor="end">0.63</text>
<text x="514.20" y="296.38" font-size="8.7" fill="#2A2A2A" text-anchor="end">2.7</text>
<text x="514.20" y="307.61" font-size="8.7" fill="#2A2A2A" text-anchor="end">2.38</text>
<text x="514.20" y="318.84" font-size="8.7" fill="#2A2A2A" text-anchor="end">0.74</text>
<text x="514.20" y="330.07" font-size="8.7" fill="#2A2A2A" text-anchor="end">0.53</text>
<text x="514.20" y="341.30" font-size="8.7" fill="#2A2A2A" text-anchor="end">1.99</text>
<text x="514.20" y="352.53" font-size="8.7" fill="#2A2A2A" text-anchor="end">2.96</text>
<text x="514.20" y="363.76" font-size="8.7" fill="#2A2A2A" text-anchor="end">2.13</text>
<text x="514.20" y="374.99" font-size="8.7" fill="#2A2A2A" text-anchor="end">1.09</text>
<text x="489.70" y="259.55" font-size="10.5" fill="#2222FA" text-anchor="end">1.64</text>
<text x="489.70" y="317.65" font-size="10.5" fill="#D8C440" text-anchor="end">1.45</text>
<text x="489.70" y="373.75" font-size="10.5" fill="#C4432E" text-anchor="end">1.74</text>
</g>
<rect x="369.20" y="218.80" width="152.00" height="159.10" fill="none" stroke="#333333" stroke-width="1.07"/>
<rect x="369.20" y="200.90" width="152.00" height="17.90" fill="#D9D9D9" stroke="#333333" stroke-width="1.07"/>
<text x="371.00" y="213.50" font-size="10.8" fill="#1A1A1A" text-anchor="start">(g)</text>
<text x="427.00" y="213.50" font-size="10.8" fill="#1A1A1A">LAI_FS</text>
<line x1="375.50" y1="377.90" x2="375.50" y2="381.10" stroke="#333333" stroke-width="1.07"/>
<text x="375.50" y="392.10" font-size="10.8" fill="#4D4D4D" text-anchor="middle">0</text>
<line x1="406.38" y1="377.90" x2="406.38" y2="381.10" stroke="#333333" stroke-width="1.07"/>
<text x="406.38" y="392.10" font-size="10.8" fill="#4D4D4D" text-anchor="middle">1</text>
<line x1="437.25" y1="377.90" x2="437.25" y2="381.10" stroke="#333333" stroke-width="1.07"/>
<text x="437.25" y="392.10" font-size="10.8" fill="#4D4D4D" text-anchor="middle">2</text>
<line x1="468.12" y1="377.90" x2="468.12" y2="381.10" stroke="#333333" stroke-width="1.07"/>
<text x="468.12" y="392.10" font-size="10.8" fill="#4D4D4D" text-anchor="middle">3</text>
<line x1="499.00" y1="377.90" x2="499.00" y2="381.10" stroke="#333333" stroke-width="1.07"/>
<text x="499.00" y="392.10" font-size="10.8" fill="#4D4D4D" text-anchor="middle">4</text>
</g>
<g>
<rect x="527.70" y="218.80" width="152.00" height="159.10" fill="#FFFFFF"/>
<clipPath id="cph"><rect x="527.70" y="218.80" width="152.00" height="159.10"/></clipPath>
<g clip-path="url(#cph)">
<rect x="534.10" y="220.53" width="21.45" height="9.75" fill="#ADD8E6"/>
<rect x="534.10" y="231.75" width="47.85" height="9.75" fill="#ADD8E6"/>
<rect x="534.10" y="242.99" width="41.51" height="9.75" fill="#ADD8E6"/>
<rect x="534.10" y="254.22" width="32.28" height="9.75" fill="#ADD8E6"/>
<rect x="534.10" y="265.44" width="63.41" height="9.75" fill="#ADD8E6"/>
<rect x="534.10" y="276.68" width="18.22" height="9.75" fill="#ADD8E6"/>
<rect x="534.10" y="287.90" width="56.50" height="9.75" fill="#ADD8E6"/>
<rect x="534.10" y="299.13" width="86.13" height="9.75" fill="#ADD8E6"/>
<rect x="534.10" y="310.37" width="36.67" height="9.75" fill="#ADD8E6"/>
<rect x="534.10" y="321.60" width="13.84" height="9.75" fill="#ADD8E6"/>
<rect x="534.10" y="332.83" width="60.53" height="9.75" fill="#ADD8E6"/>
<rect x="534.10" y="344.06" width="81.63" height="9.75" fill="#ADD8E6"/>
<rect x="534.10" y="355.28" width="44.85" height="9.75" fill="#ADD8E6"/>
<rect x="534.10" y="366.51" width="32.05" height="9.75" fill="#ADD8E6"/>
<line x1="527.70" y1="264.70" x2="679.70" y2="264.70" stroke="#000" stroke-width="1.1" stroke-dasharray="3.7 4.07"/>
<line x1="527.70" y1="320.86" x2="679.70" y2="320.86" stroke="#000" stroke-width="1.1" stroke-dasharray="3.7 4.07"/>
<line x1="555.55" y1="225.40" x2="558.31" y2="225.40" stroke="#FF0000" stroke-width="1.05"/>
<line x1="581.95" y1="236.63" x2="576.76" y2="236.63" stroke="#0000FF" stroke-width="1.05"/>
<line x1="575.61" y1="247.86" x2="561.77" y2="247.86" stroke="#0000FF" stroke-width="1.05"/>
<line x1="566.38" y1="259.09" x2="559.47" y2="259.09" stroke="#0000FF" stroke-width="1.05"/>
<line x1="597.51" y1="270.32" x2="597.51" y2="270.32" stroke="#0000FF" stroke-width="1.05"/>
<line x1="552.32" y1="281.55" x2="549.09" y2="281.55" stroke="#0000FF" stroke-width="1.05"/>
<line x1="590.60" y1="292.78" x2="588.29" y2="292.78" stroke="#0000FF" stroke-width="1.05"/>
<line x1="620.23" y1="304.01" x2="641.33" y2="304.01" stroke="#FF0000" stroke-width="1.05"/>
<line x1="570.77" y1="315.24" x2="566.38" y2="315.24" stroke="#0000FF" stroke-width="1.05"/>
<line x1="547.94" y1="326.47" x2="556.01" y2="326.47" stroke="#FF0000" stroke-width="1.05"/>
<line x1="594.63" y1="337.70" x2="559.47" y2="337.70" stroke="#0000FF" stroke-width="1.05"/>
<line x1="615.73" y1="348.93" x2="606.74" y2="348.93" stroke="#0000FF" stroke-width="1.05"/>
<line x1="578.95" y1="360.16" x2="606.74" y2="360.16" stroke="#FF0000" stroke-width="1.05"/>
<line x1="566.15" y1="371.39" x2="596.36" y2="371.39" stroke="#FF0000" stroke-width="1.05"/>
<rect x="554.51" y="223.10" width="8.88" height="4.60" fill="rgba(222,0,22,0.45)"/>
<rect x="556.81" y="245.56" width="8.88" height="4.60" fill="rgba(222,0,22,0.45)"/>
<rect x="551.51" y="256.79" width="15.91" height="4.60" fill="rgba(222,0,22,0.45)"/>
<rect x="539.98" y="279.25" width="19.02" height="4.60" fill="rgba(222,0,22,0.45)"/>
<rect x="582.53" y="290.48" width="12.11" height="4.60" fill="rgba(222,0,22,0.45)"/>
<rect x="629.22" y="301.71" width="26.17" height="4.60" fill="rgba(222,0,22,0.45)"/>
<rect x="557.85" y="312.94" width="16.03" height="4.60" fill="rgba(222,0,22,0.45)"/>
<rect x="551.16" y="324.17" width="9.34" height="4.60" fill="rgba(222,0,22,0.45)"/>
<rect x="540.56" y="335.40" width="38.39" height="4.60" fill="rgba(222,0,22,0.45)"/>
<rect x="593.94" y="346.63" width="25.25" height="4.60" fill="rgba(222,0,22,0.45)"/>
<rect x="593.02" y="357.86" width="27.21" height="4.60" fill="rgba(222,0,22,0.45)"/>
<rect x="582.87" y="369.09" width="27.79" height="4.60" fill="rgba(222,0,22,0.45)"/>
<line x1="555.55" y1="225.40" x2="558.31" y2="225.40" stroke="#FF0000" stroke-width="1.15" stroke-opacity="0.75"/>
<line x1="581.95" y1="236.63" x2="576.76" y2="236.63" stroke="#0000FF" stroke-width="1.15" stroke-opacity="0.75"/>
<line x1="575.61" y1="247.86" x2="561.77" y2="247.86" stroke="#0000FF" stroke-width="1.15" stroke-opacity="0.75"/>
<line x1="566.38" y1="259.09" x2="559.47" y2="259.09" stroke="#0000FF" stroke-width="1.15" stroke-opacity="0.75"/>
<line x1="597.51" y1="270.32" x2="597.51" y2="270.32" stroke="#0000FF" stroke-width="1.15" stroke-opacity="0.75"/>
<line x1="552.32" y1="281.55" x2="549.09" y2="281.55" stroke="#0000FF" stroke-width="1.15" stroke-opacity="0.75"/>
<line x1="590.60" y1="292.78" x2="588.29" y2="292.78" stroke="#0000FF" stroke-width="1.15" stroke-opacity="0.75"/>
<line x1="620.23" y1="304.01" x2="641.33" y2="304.01" stroke="#FF0000" stroke-width="1.15" stroke-opacity="0.75"/>
<line x1="570.77" y1="315.24" x2="566.38" y2="315.24" stroke="#0000FF" stroke-width="1.15" stroke-opacity="0.75"/>
<line x1="547.94" y1="326.47" x2="556.01" y2="326.47" stroke="#FF0000" stroke-width="1.15" stroke-opacity="0.75"/>
<line x1="594.63" y1="337.70" x2="559.47" y2="337.70" stroke="#0000FF" stroke-width="1.15" stroke-opacity="0.75"/>
<line x1="615.73" y1="348.93" x2="606.74" y2="348.93" stroke="#0000FF" stroke-width="1.15" stroke-opacity="0.75"/>
<line x1="578.95" y1="360.16" x2="606.74" y2="360.16" stroke="#FF0000" stroke-width="1.15" stroke-opacity="0.75"/>
<line x1="566.15" y1="371.39" x2="596.36" y2="371.39" stroke="#FF0000" stroke-width="1.15" stroke-opacity="0.75"/>
<circle cx="558.31" cy="225.40" r="3.0" fill="#95E989" stroke="#000" stroke-width="0.9"/>
<circle cx="576.76" cy="236.63" r="3.0" fill="#5A0808" stroke="#000" stroke-width="0.9"/>
<path d="M573.76 236.63H579.76M576.76 233.63V239.63" stroke="#000" stroke-width="0.9"/>
<circle cx="561.77" cy="247.86" r="3.0" fill="#95E989" stroke="#000" stroke-width="0.9"/>
<circle cx="559.47" cy="259.09" r="3.0" fill="#95E989" stroke="#000" stroke-width="0.9"/>
<circle cx="597.51" cy="270.32" r="3.0" fill="#D8EE9A" stroke="#000" stroke-width="0.9"/>
<path d="M594.51 270.32H600.51M597.51 267.32V273.32" stroke="#000" stroke-width="0.9"/>
<circle cx="549.09" cy="281.55" r="3.0" fill="#95E989" stroke="#000" stroke-width="0.9"/>
<circle cx="588.29" cy="292.78" r="3.0" fill="#95E989" stroke="#000" stroke-width="0.9"/>
<circle cx="641.33" cy="304.01" r="3.0" fill="#95E989" stroke="#000" stroke-width="0.9"/>
<circle cx="566.38" cy="315.24" r="3.0" fill="#EAE58E" stroke="#000" stroke-width="0.9"/>
<path d="M563.38 315.24H569.38M566.38 312.24V318.24" stroke="#000" stroke-width="0.9"/>
<circle cx="556.01" cy="326.47" r="3.0" fill="#2F8650" stroke="#000" stroke-width="0.9"/>
<circle cx="559.47" cy="337.70" r="3.0" fill="#95E989" stroke="#000" stroke-width="0.9"/>
<circle cx="606.74" cy="348.93" r="3.0" fill="#EAE58E" stroke="#000" stroke-width="0.9"/>
<path d="M603.74 348.93H609.74M606.74 345.93V351.93" stroke="#000" stroke-width="0.9"/>
<circle cx="606.74" cy="360.16" r="3.0" fill="#95E989" stroke="#000" stroke-width="0.9"/>
<circle cx="596.36" cy="371.39" r="3.0" fill="#95E989" stroke="#000" stroke-width="0.9"/>
<text x="672.70" y="229.00" font-size="8.7" fill="#2A2A2A" text-anchor="end">0.21</text>
<text x="672.70" y="240.23" font-size="8.7" fill="#2A2A2A" text-anchor="end">0.37</text>
<text x="672.70" y="251.46" font-size="8.7" fill="#2A2A2A" text-anchor="end">0.24</text>
<text x="672.70" y="262.69" font-size="8.7" fill="#2A2A2A" text-anchor="end">0.22</text>
<text x="672.70" y="273.92" font-size="8.7" fill="#2A2A2A" text-anchor="end">0.55</text>
<text x="672.70" y="285.15" font-size="8.7" fill="#2A2A2A" text-anchor="end">0.13</text>
<text x="672.70" y="296.38" font-size="8.7" fill="#2A2A2A" text-anchor="end">0.47</text>
<text x="672.70" y="307.61" font-size="8.7" fill="#2A2A2A" text-anchor="end">0.93</text>
<text x="672.70" y="318.84" font-size="8.7" fill="#2A2A2A" text-anchor="end">0.28</text>
<text x="672.70" y="330.07" font-size="8.7" fill="#2A2A2A" text-anchor="end">0.19</text>
<text x="672.70" y="341.30" font-size="8.7" fill="#2A2A2A" text-anchor="end">0.22</text>
<text x="672.70" y="352.53" font-size="8.7" fill="#2A2A2A" text-anchor="end">0.63</text>
<text x="672.70" y="363.76" font-size="8.7" fill="#2A2A2A" text-anchor="end">0.63</text>
<text x="672.70" y="374.99" font-size="8.7" fill="#2A2A2A" text-anchor="end">0.54</text>
<text x="644.30" y="259.55" font-size="10.5" fill="#2222FA" text-anchor="end">0.26</text>
<text x="643.90" y="317.65" font-size="10.5" fill="#D8C440" text-anchor="end">0.47</text>
<text x="644.30" y="373.75" font-size="10.5" fill="#C4432E" text-anchor="end">0.44</text>
</g>
<rect x="527.70" y="218.80" width="152.00" height="159.10" fill="none" stroke="#333333" stroke-width="1.07"/>
<rect x="527.70" y="200.90" width="152.00" height="17.90" fill="#D9D9D9" stroke="#333333" stroke-width="1.07"/>
<text x="533.40" y="213.50" font-size="10.8" fill="#1A1A1A" text-anchor="start">(h)</text>
<text x="566.00" y="213.50" font-size="10.8" fill="#1A1A1A">NPP (kg Cm<tspan font-size="7.2" dy="-3.6">-2</tspan><tspan dy="3.6">yr</tspan><tspan font-size="7.2" dy="-3.6">-1</tspan><tspan dy="3.6">)</tspan></text>
<line x1="534.10" y1="377.90" x2="534.10" y2="381.10" stroke="#333333" stroke-width="1.07"/>
<text x="534.10" y="392.10" font-size="10.8" fill="#4D4D4D" text-anchor="middle">0.00</text>
<line x1="562.93" y1="377.90" x2="562.93" y2="381.10" stroke="#333333" stroke-width="1.07"/>
<text x="562.93" y="392.10" font-size="10.8" fill="#4D4D4D" text-anchor="middle">0.25</text>
<line x1="591.75" y1="377.90" x2="591.75" y2="381.10" stroke="#333333" stroke-width="1.07"/>
<text x="591.75" y="392.10" font-size="10.8" fill="#4D4D4D" text-anchor="middle">0.50</text>
<line x1="620.58" y1="377.90" x2="620.58" y2="381.10" stroke="#333333" stroke-width="1.07"/>
<text x="620.58" y="392.10" font-size="10.8" fill="#4D4D4D" text-anchor="middle">0.75</text>
<line x1="649.40" y1="377.90" x2="649.40" y2="381.10" stroke="#333333" stroke-width="1.07"/>
<text x="649.40" y="392.10" font-size="10.8" fill="#4D4D4D" text-anchor="middle">1.00</text>
<line x1="678.23" y1="377.90" x2="678.23" y2="381.10" stroke="#333333" stroke-width="1.07"/>
<text x="678.23" y="392.10" font-size="10.8" fill="#4D4D4D" text-anchor="middle">1.25</text>
</g>
<g>
<rect x="52.20" y="418.30" width="152.00" height="159.10" fill="#FFFFFF"/>
<clipPath id="cpi"><rect x="52.20" y="418.30" width="152.00" height="159.10"/></clipPath>
<g clip-path="url(#cpi)">
<rect x="58.40" y="420.02" width="71.32" height="9.75" fill="#ADD8E6"/>
<rect x="58.40" y="431.25" width="71.32" height="9.75" fill="#ADD8E6"/>
<rect x="58.40" y="442.48" width="57.74" height="9.75" fill="#ADD8E6"/>
<rect x="58.40" y="453.71" width="57.43" height="9.75" fill="#ADD8E6"/>
<rect x="58.40" y="464.94" width="92.32" height="9.75" fill="#ADD8E6"/>
<rect x="58.40" y="476.17" width="72.86" height="9.75" fill="#ADD8E6"/>
<rect x="58.40" y="487.40" width="84.91" height="9.75" fill="#ADD8E6"/>
<rect x="58.40" y="498.63" width="113.93" height="9.75" fill="#ADD8E6"/>
<rect x="58.40" y="509.87" width="79.97" height="9.75" fill="#ADD8E6"/>
<rect x="58.40" y="521.10" width="91.08" height="9.75" fill="#ADD8E6"/>
<rect x="58.40" y="532.33" width="104.05" height="9.75" fill="#ADD8E6"/>
<rect x="58.40" y="543.55" width="102.20" height="9.75" fill="#ADD8E6"/>
<rect x="58.40" y="554.78" width="92.32" height="9.75" fill="#ADD8E6"/>
<line x1="52.20" y1="464.20" x2="204.20" y2="464.20" stroke="#000" stroke-width="1.1" stroke-dasharray="3.7 4.07"/>
<line x1="52.20" y1="520.36" x2="204.20" y2="520.36" stroke="#000" stroke-width="1.1" stroke-dasharray="3.7 4.07"/>
<line x1="129.72" y1="424.90" x2="132.81" y2="424.90" stroke="#FF0000" stroke-width="1.05"/>
<line x1="129.72" y1="436.13" x2="107.18" y2="436.13" stroke="#0000FF" stroke-width="1.05"/>
<line x1="116.14" y1="447.36" x2="116.14" y2="447.36" stroke="#0000FF" stroke-width="1.05"/>
<line x1="115.83" y1="458.59" x2="115.83" y2="458.59" stroke="#0000FF" stroke-width="1.05"/>
<line x1="150.72" y1="469.82" x2="116.44" y2="469.82" stroke="#0000FF" stroke-width="1.05"/>
<line x1="131.26" y1="481.05" x2="131.26" y2="481.05" stroke="#0000FF" stroke-width="1.05"/>
<line x1="143.31" y1="492.28" x2="130.96" y2="492.28" stroke="#0000FF" stroke-width="1.05"/>
<line x1="172.33" y1="503.51" x2="155.35" y2="503.51" stroke="#0000FF" stroke-width="1.05"/>
<line x1="138.37" y1="514.74" x2="113.97" y2="514.74" stroke="#0000FF" stroke-width="1.05"/>
<line x1="149.48" y1="525.97" x2="152.57" y2="525.97" stroke="#FF0000" stroke-width="1.05"/>
<line x1="162.45" y1="537.20" x2="138.37" y2="537.20" stroke="#0000FF" stroke-width="1.05"/>
<line x1="160.60" y1="548.43" x2="126.02" y2="548.43" stroke="#0000FF" stroke-width="1.05"/>
<line x1="150.72" y1="559.66" x2="128.49" y2="559.66" stroke="#0000FF" stroke-width="1.05"/>
<rect x="126.94" y="422.60" width="11.42" height="4.60" fill="rgba(222,0,22,0.45)"/>
<rect x="124.78" y="478.75" width="12.97" height="4.60" fill="rgba(222,0,22,0.45)"/>
<rect x="119.53" y="489.98" width="23.77" height="4.60" fill="rgba(222,0,22,0.45)"/>
<rect x="147.94" y="501.21" width="15.13" height="4.60" fill="rgba(222,0,22,0.45)"/>
<rect x="143.00" y="523.67" width="18.83" height="4.60" fill="rgba(222,0,22,0.45)"/>
<rect x="123.24" y="534.90" width="30.26" height="4.60" fill="rgba(222,0,22,0.45)"/>
<rect x="112.74" y="546.13" width="26.55" height="4.60" fill="rgba(222,0,22,0.45)"/>
<rect x="117.99" y="557.36" width="20.99" height="4.60" fill="rgba(222,0,22,0.45)"/>
<line x1="129.72" y1="424.90" x2="132.81" y2="424.90" stroke="#FF0000" stroke-width="1.15" stroke-opacity="0.75"/>
<line x1="129.72" y1="436.13" x2="107.18" y2="436.13" stroke="#0000FF" stroke-width="1.15" stroke-opacity="0.75"/>
<line x1="116.14" y1="447.36" x2="116.14" y2="447.36" stroke="#0000FF" stroke-width="1.15" stroke-opacity="0.75"/>
<line x1="115.83" y1="458.59" x2="115.83" y2="458.59" stroke="#0000FF" stroke-width="1.15" stroke-opacity="0.75"/>
<line x1="150.72" y1="469.82" x2="116.44" y2="469.82" stroke="#0000FF" stroke-width="1.15" stroke-opacity="0.75"/>
<line x1="131.26" y1="481.05" x2="131.26" y2="481.05" stroke="#0000FF" stroke-width="1.15" stroke-opacity="0.75"/>
<line x1="143.31" y1="492.28" x2="130.96" y2="492.28" stroke="#0000FF" stroke-width="1.15" stroke-opacity="0.75"/>
<line x1="172.33" y1="503.51" x2="155.35" y2="503.51" stroke="#0000FF" stroke-width="1.15" stroke-opacity="0.75"/>
<line x1="138.37" y1="514.74" x2="113.97" y2="514.74" stroke="#0000FF" stroke-width="1.15" stroke-opacity="0.75"/>
<line x1="149.48" y1="525.97" x2="152.57" y2="525.97" stroke="#FF0000" stroke-width="1.15" stroke-opacity="0.75"/>
<line x1="162.45" y1="537.20" x2="138.37" y2="537.20" stroke="#0000FF" stroke-width="1.15" stroke-opacity="0.75"/>
<line x1="160.60" y1="548.43" x2="126.02" y2="548.43" stroke="#0000FF" stroke-width="1.15" stroke-opacity="0.75"/>
<line x1="150.72" y1="559.66" x2="128.49" y2="559.66" stroke="#0000FF" stroke-width="1.15" stroke-opacity="0.75"/>
<circle cx="132.81" cy="424.90" r="3.0" fill="#EAE58E" stroke="#000" stroke-width="0.9"/>
<path d="M129.81 424.90H135.81M132.81 421.90V427.90" stroke="#000" stroke-width="0.9"/>
<circle cx="107.18" cy="436.13" r="3.0" fill="#EAE58E" stroke="#000" stroke-width="0.9"/>
<path d="M104.18 436.13H110.18M107.18 433.13V439.13" stroke="#000" stroke-width="0.9"/>
<circle cx="116.14" cy="447.36" r="3.0" fill="#BBEE8E" stroke="#000" stroke-width="0.9"/>
<circle cx="115.83" cy="458.59" r="3.0" fill="#5FBE64" stroke="#000" stroke-width="0.9"/>
<circle cx="116.44" cy="469.82" r="3.0" fill="#EAE58E" stroke="#000" stroke-width="0.9"/>
<path d="M113.44 469.82H119.44M116.44 466.82V472.82" stroke="#000" stroke-width="0.9"/>
<circle cx="131.26" cy="481.05" r="3.0" fill="#EAE58E" stroke="#000" stroke-width="0.9"/>
<path d="M128.26 481.05H134.26M131.26 478.05V484.05" stroke="#000" stroke-width="0.9"/>
<circle cx="130.96" cy="492.28" r="3.0" fill="#EAE58E" stroke="#000" stroke-width="0.9"/>
<path d="M127.96 492.28H133.96M130.96 489.28V495.28" stroke="#000" stroke-width="0.9"/>
<circle cx="155.35" cy="503.51" r="3.0" fill="#D8EE9A" stroke="#000" stroke-width="0.9"/>
<path d="M152.35 503.51H158.35M155.35 500.51V506.51" stroke="#000" stroke-width="0.9"/>
<circle cx="113.97" cy="514.74" r="3.0" fill="#EAE58E" stroke="#000" stroke-width="0.9"/>
<path d="M110.97 514.74H116.97M113.97 511.74V517.74" stroke="#000" stroke-width="0.9"/>
<circle cx="152.57" cy="525.97" r="3.0" fill="#D8EE9A" stroke="#000" stroke-width="0.9"/>
<circle cx="138.37" cy="537.20" r="3.0" fill="#D8EE9A" stroke="#000" stroke-width="0.9"/>
<path d="M135.37 537.20H141.37M138.37 534.20V540.20" stroke="#000" stroke-width="0.9"/>
<circle cx="126.02" cy="548.43" r="3.0" fill="#8E1B16" stroke="#000" stroke-width="0.9"/>
<path d="M123.02 548.43H129.02M126.02 545.43V551.43" stroke="#000" stroke-width="0.9"/>
<circle cx="128.49" cy="559.66" r="3.0" fill="#EAE58E" stroke="#000" stroke-width="0.9"/>
<path d="M125.49 559.66H131.49M128.49 556.66V562.66" stroke="#000" stroke-width="0.9"/>
<text x="197.20" y="428.50" font-size="8.7" fill="#2A2A2A" text-anchor="end">2.41</text>
<text x="197.20" y="439.73" font-size="8.7" fill="#2A2A2A" text-anchor="end">1.58</text>
<text x="197.20" y="450.96" font-size="8.7" fill="#2A2A2A" text-anchor="end">1.87</text>
<text x="197.20" y="462.19" font-size="8.7" fill="#2A2A2A" text-anchor="end">1.86</text>
<text x="197.20" y="473.42" font-size="8.7" fill="#2A2A2A" text-anchor="end">1.88</text>
<text x="197.20" y="484.65" font-size="8.7" fill="#2A2A2A" text-anchor="end">2.36</text>
<text x="197.20" y="495.88" font-size="8.7" fill="#2A2A2A" text-anchor="end">2.35</text>
<text x="197.20" y="507.11" font-size="8.7" fill="#2A2A2A" text-anchor="end">3.14</text>
<text x="197.20" y="518.34" font-size="8.7" fill="#2A2A2A" text-anchor="end">1.8</text>
<text x="197.20" y="529.57" font-size="8.7" fill="#2A2A2A" text-anchor="end">3.05</text>
<text x="197.20" y="540.80" font-size="8.7" fill="#2A2A2A" text-anchor="end">2.59</text>
<text x="197.20" y="552.03" font-size="8.7" fill="#2A2A2A" text-anchor="end">2.19</text>
<text x="197.20" y="563.26" font-size="8.7" fill="#2A2A2A" text-anchor="end">2.27</text>
<text x="174.40" y="460.25" font-size="10.5" fill="#2222FA" text-anchor="end">1.93</text>
<text x="174.40" y="518.25" font-size="10.5" fill="#D8C440" text-anchor="end">2.30</text>
<text x="174.00" y="571.95" font-size="10.5" fill="#C4432E" text-anchor="end">2.52</text>
</g>
<rect x="52.20" y="418.30" width="152.00" height="159.10" fill="none" stroke="#333333" stroke-width="1.07"/>
<rect x="52.20" y="400.40" width="152.00" height="17.90" fill="#D9D9D9" stroke="#333333" stroke-width="1.07"/>
<text x="53.40" y="413.00" font-size="10.8" fill="#1A1A1A" text-anchor="start">(i)</text>
<text x="78.30" y="413.00" font-size="10.8" fill="#1A1A1A">GDP (log<tspan font-size="7.2" dy="2.6">10</tspan><tspan dy="-2.6">, M-USD)</tspan></text>
<line x1="49.10" y1="424.90" x2="52.20" y2="424.90" stroke="#333333" stroke-width="1.07"/>
<text x="46.40" y="429.50" font-size="10.8" fill="#4D4D4D" text-anchor="end">Polar</text>
<line x1="49.10" y1="436.13" x2="52.20" y2="436.13" stroke="#333333" stroke-width="1.07"/>
<text x="46.40" y="440.73" font-size="10.8" fill="#4D4D4D" text-anchor="end">BRCF</text>
<line x1="49.10" y1="447.36" x2="52.20" y2="447.36" stroke="#333333" stroke-width="1.07"/>
<text x="46.40" y="451.96" font-size="10.8" fill="#4D4D4D" text-anchor="end">BRMS</text>
<line x1="49.10" y1="458.59" x2="52.20" y2="458.59" stroke="#333333" stroke-width="1.07"/>
<text x="46.40" y="463.19" font-size="10.8" fill="#4D4D4D" text-anchor="end">BRTW</text>
<line x1="49.10" y1="469.82" x2="52.20" y2="469.82" stroke="#333333" stroke-width="1.07"/>
<text x="46.40" y="474.42" font-size="10.8" fill="#4D4D4D" text-anchor="end">TPCF</text>
<line x1="49.10" y1="481.05" x2="52.20" y2="481.05" stroke="#333333" stroke-width="1.07"/>
<text x="46.40" y="485.65" font-size="10.8" fill="#4D4D4D" text-anchor="end">TPDT</text>
<line x1="49.10" y1="492.28" x2="52.20" y2="492.28" stroke="#333333" stroke-width="1.07"/>
<text x="46.40" y="496.88" font-size="10.8" fill="#4D4D4D" text-anchor="end">TPMS</text>
<line x1="49.10" y1="503.51" x2="52.20" y2="503.51" stroke="#333333" stroke-width="1.07"/>
<text x="46.40" y="508.11" font-size="10.8" fill="#4D4D4D" text-anchor="end">TPOF</text>
<line x1="49.10" y1="514.74" x2="52.20" y2="514.74" stroke="#333333" stroke-width="1.07"/>
<text x="46.40" y="519.34" font-size="10.8" fill="#4D4D4D" text-anchor="end">TPST</text>
<line x1="49.10" y1="525.97" x2="52.20" y2="525.97" stroke="#333333" stroke-width="1.07"/>
<text x="46.40" y="530.57" font-size="10.8" fill="#4D4D4D" text-anchor="end">STDT</text>
<line x1="49.10" y1="537.20" x2="52.20" y2="537.20" stroke="#333333" stroke-width="1.07"/>
<text x="46.40" y="541.80" font-size="10.8" fill="#4D4D4D" text-anchor="end">STDF</text>
<line x1="49.10" y1="548.43" x2="52.20" y2="548.43" stroke="#333333" stroke-width="1.07"/>
<text x="46.40" y="553.03" font-size="10.8" fill="#4D4D4D" text-anchor="end">STHF</text>
<line x1="49.10" y1="559.66" x2="52.20" y2="559.66" stroke="#333333" stroke-width="1.07"/>
<text x="46.40" y="564.26" font-size="10.8" fill="#4D4D4D" text-anchor="end">STMS</text>
<line x1="49.10" y1="570.89" x2="52.20" y2="570.89" stroke="#333333" stroke-width="1.07"/>
<text x="46.40" y="575.49" font-size="10.8" fill="#4D4D4D" text-anchor="end">STST</text>
<line x1="58.40" y1="577.40" x2="58.40" y2="580.60" stroke="#333333" stroke-width="1.07"/>
<text x="58.40" y="591.60" font-size="10.8" fill="#4D4D4D" text-anchor="middle">0</text>
<line x1="89.28" y1="577.40" x2="89.28" y2="580.60" stroke="#333333" stroke-width="1.07"/>
<text x="89.28" y="591.60" font-size="10.8" fill="#4D4D4D" text-anchor="middle">1</text>
<line x1="120.15" y1="577.40" x2="120.15" y2="580.60" stroke="#333333" stroke-width="1.07"/>
<text x="120.15" y="591.60" font-size="10.8" fill="#4D4D4D" text-anchor="middle">2</text>
<line x1="151.03" y1="577.40" x2="151.03" y2="580.60" stroke="#333333" stroke-width="1.07"/>
<text x="151.03" y="591.60" font-size="10.8" fill="#4D4D4D" text-anchor="middle">3</text>
<line x1="181.90" y1="577.40" x2="181.90" y2="580.60" stroke="#333333" stroke-width="1.07"/>
<text x="181.90" y="591.60" font-size="10.8" fill="#4D4D4D" text-anchor="middle">4</text>
</g>
<g>
<rect x="210.70" y="418.30" width="152.00" height="159.10" fill="#FFFFFF"/>
<clipPath id="cpj"><rect x="210.70" y="418.30" width="152.00" height="159.10"/></clipPath>
<g clip-path="url(#cpj)">
<rect x="250.70" y="431.25" width="13.21" height="9.75" fill="#ADD8E6"/>
<rect x="238.09" y="442.48" width="12.61" height="9.75" fill="#ADD8E6"/>
<rect x="250.70" y="464.94" width="55.56" height="9.75" fill="#ADD8E6"/>
<rect x="250.70" y="476.17" width="33.03" height="9.75" fill="#ADD8E6"/>
<rect x="250.70" y="498.63" width="61.26" height="9.75" fill="#ADD8E6"/>
<rect x="250.70" y="509.87" width="34.23" height="9.75" fill="#ADD8E6"/>
<rect x="250.70" y="521.10" width="54.35" height="9.75" fill="#ADD8E6"/>
<rect x="250.70" y="532.33" width="61.86" height="9.75" fill="#ADD8E6"/>
<rect x="250.70" y="543.55" width="58.86" height="9.75" fill="#ADD8E6"/>
<rect x="250.70" y="554.78" width="52.85" height="9.75" fill="#ADD8E6"/>
<rect x="250.70" y="566.01" width="58.86" height="9.75" fill="#ADD8E6"/>
<line x1="210.70" y1="464.20" x2="362.70" y2="464.20" stroke="#000" stroke-width="1.1" stroke-dasharray="3.7 4.07"/>
<line x1="210.70" y1="520.36" x2="362.70" y2="520.36" stroke="#000" stroke-width="1.1" stroke-dasharray="3.7 4.07"/>
<line x1="263.91" y1="436.13" x2="242.29" y2="436.13" stroke="#0000FF" stroke-width="1.05"/>
<line x1="238.09" y1="447.36" x2="236.89" y2="447.36" stroke="#0000FF" stroke-width="1.05"/>
<line x1="306.26" y1="469.82" x2="264.51" y2="469.82" stroke="#0000FF" stroke-width="1.05"/>
<line x1="283.73" y1="481.05" x2="233.28" y2="481.05" stroke="#0000FF" stroke-width="1.05"/>
<line x1="311.96" y1="503.51" x2="275.02" y2="503.51" stroke="#0000FF" stroke-width="1.05"/>
<line x1="284.93" y1="514.74" x2="246.80" y2="514.74" stroke="#0000FF" stroke-width="1.05"/>
<line x1="305.05" y1="525.97" x2="236.89" y2="525.97" stroke="#0000FF" stroke-width="1.05"/>
<line x1="312.56" y1="537.20" x2="281.63" y2="537.20" stroke="#0000FF" stroke-width="1.05"/>
<line x1="309.56" y1="548.43" x2="265.11" y2="548.43" stroke="#0000FF" stroke-width="1.05"/>
<line x1="303.55" y1="559.66" x2="233.28" y2="559.66" stroke="#0000FF" stroke-width="1.05"/>
<line x1="309.56" y1="570.89" x2="313.76" y2="570.89" stroke="#FF0000" stroke-width="1.05"/>
<rect x="232.98" y="433.83" width="18.62" height="4.60" fill="rgba(222,0,22,0.45)"/>
<rect x="229.08" y="445.06" width="15.62" height="4.60" fill="rgba(222,0,22,0.45)"/>
<rect x="223.37" y="478.75" width="19.22" height="4.60" fill="rgba(222,0,22,0.45)"/>
<rect x="254.90" y="501.21" width="40.24" height="4.60" fill="rgba(222,0,22,0.45)"/>
<rect x="231.18" y="512.44" width="31.53" height="4.60" fill="rgba(222,0,22,0.45)"/>
<rect x="221.57" y="523.67" width="30.93" height="4.60" fill="rgba(222,0,22,0.45)"/>
<rect x="261.51" y="534.90" width="39.94" height="4.60" fill="rgba(222,0,22,0.45)"/>
<rect x="243.49" y="546.13" width="42.94" height="4.60" fill="rgba(222,0,22,0.45)"/>
<rect x="217.07" y="557.36" width="32.43" height="4.60" fill="rgba(222,0,22,0.45)"/>
<rect x="290.94" y="568.59" width="45.35" height="4.60" fill="rgba(222,0,22,0.45)"/>
<line x1="263.91" y1="436.13" x2="242.29" y2="436.13" stroke="#0000FF" stroke-width="1.15" stroke-opacity="0.75"/>
<line x1="238.09" y1="447.36" x2="236.89" y2="447.36" stroke="#0000FF" stroke-width="1.15" stroke-opacity="0.75"/>
<line x1="306.26" y1="469.82" x2="264.51" y2="469.82" stroke="#0000FF" stroke-width="1.15" stroke-opacity="0.75"/>
<line x1="283.73" y1="481.05" x2="233.28" y2="481.05" stroke="#0000FF" stroke-width="1.15" stroke-opacity="0.75"/>
<line x1="311.96" y1="503.51" x2="275.02" y2="503.51" stroke="#0000FF" stroke-width="1.15" stroke-opacity="0.75"/>
<line x1="284.93" y1="514.74" x2="246.80" y2="514.74" stroke="#0000FF" stroke-width="1.15" stroke-opacity="0.75"/>
<line x1="305.05" y1="525.97" x2="236.89" y2="525.97" stroke="#0000FF" stroke-width="1.15" stroke-opacity="0.75"/>
<line x1="312.56" y1="537.20" x2="281.63" y2="537.20" stroke="#0000FF" stroke-width="1.15" stroke-opacity="0.75"/>
<line x1="309.56" y1="548.43" x2="265.11" y2="548.43" stroke="#0000FF" stroke-width="1.15" stroke-opacity="0.75"/>
<line x1="303.55" y1="559.66" x2="233.28" y2="559.66" stroke="#0000FF" stroke-width="1.15" stroke-opacity="0.75"/>
<line x1="309.56" y1="570.89" x2="313.76" y2="570.89" stroke="#FF0000" stroke-width="1.15" stroke-opacity="0.75"/>
<circle cx="242.29" cy="436.13" r="3.0" fill="#5FBE64" stroke="#000" stroke-width="0.9"/>
<circle cx="236.89" cy="447.36" r="3.0" fill="#BBEE8E" stroke="#000" stroke-width="0.9"/>
<circle cx="264.51" cy="469.82" r="3.0" fill="#EAE58E" stroke="#000" stroke-width="0.9"/>
<path d="M261.51 469.82H267.51M264.51 466.82V472.82" stroke="#000" stroke-width="0.9"/>
<circle cx="233.28" cy="481.05" r="3.0" fill="#3E7EC2" stroke="#000" stroke-width="0.9"/>
<circle cx="275.02" cy="503.51" r="3.0" fill="#D8EE9A" stroke="#000" stroke-width="0.9"/>
<path d="M272.02 503.51H278.02M275.02 500.51V506.51" stroke="#000" stroke-width="0.9"/>
<circle cx="246.80" cy="514.74" r="3.0" fill="#EAE58E" stroke="#000" stroke-width="0.9"/>
<path d="M243.80 514.74H249.80M246.80 511.74V517.74" stroke="#000" stroke-width="0.9"/>
<circle cx="236.89" cy="525.97" r="3.0" fill="#95E989" stroke="#000" stroke-width="0.9"/>
<circle cx="281.63" cy="537.20" r="3.0" fill="#95E989" stroke="#000" stroke-width="0.9"/>
<circle cx="265.11" cy="548.43" r="3.0" fill="#95E989" stroke="#000" stroke-width="0.9"/>
<circle cx="233.28" cy="559.66" r="3.0" fill="#E0552C" stroke="#000" stroke-width="0.9"/>
<path d="M230.28 559.66H236.28M233.28 556.66V562.66" stroke="#000" stroke-width="0.9"/>
<circle cx="313.76" cy="570.89" r="3.0" fill="#95E989" stroke="#000" stroke-width="0.9"/>
<text x="355.70" y="439.73" font-size="8.7" fill="#2A2A2A" text-anchor="end">-0.28</text>
<text x="355.70" y="450.96" font-size="8.7" fill="#2A2A2A" text-anchor="end">-0.46</text>
<text x="355.70" y="473.42" font-size="8.7" fill="#2A2A2A" text-anchor="end">0.46</text>
<text x="355.70" y="484.65" font-size="8.7" fill="#2A2A2A" text-anchor="end">-0.58</text>
<text x="355.70" y="507.11" font-size="8.7" fill="#2A2A2A" text-anchor="end">0.81</text>
<text x="355.70" y="518.34" font-size="8.7" fill="#2A2A2A" text-anchor="end">-0.13</text>
<text x="355.70" y="529.57" font-size="8.7" fill="#2A2A2A" text-anchor="end">-0.46</text>
<text x="355.70" y="540.80" font-size="8.7" fill="#2A2A2A" text-anchor="end">1.03</text>
<text x="355.70" y="552.03" font-size="8.7" fill="#2A2A2A" text-anchor="end">0.48</text>
<text x="355.70" y="563.26" font-size="8.7" fill="#2A2A2A" text-anchor="end">-0.58</text>
<text x="355.70" y="574.49" font-size="8.7" fill="#2A2A2A" text-anchor="end">2.1</text>
<text x="335.10" y="460.25" font-size="10.5" fill="#2222FA" text-anchor="end">-0.37</text>
<text x="335.10" y="516.95" font-size="10.5" fill="#D8C440" text-anchor="end">0.14</text>
<text x="333.50" y="561.95" font-size="10.5" fill="#C4432E" text-anchor="end">0.51</text>
</g>
<rect x="210.70" y="418.30" width="152.00" height="159.10" fill="none" stroke="#333333" stroke-width="1.07"/>
<rect x="210.70" y="400.40" width="152.00" height="17.90" fill="#D9D9D9" stroke="#333333" stroke-width="1.07"/>
<text x="213.40" y="413.00" font-size="10.8" fill="#1A1A1A" text-anchor="start">(j)</text>
<text x="246.40" y="413.00" font-size="10.8" fill="#1A1A1A">Pop (log<tspan font-size="7.2" dy="2.6">10</tspan><tspan dy="-2.6">, 0.01 M)</tspan></text>
<line x1="220.67" y1="577.40" x2="220.67" y2="580.60" stroke="#333333" stroke-width="1.07"/>
<text x="220.67" y="591.60" font-size="10.8" fill="#4D4D4D" text-anchor="middle">-1</text>
<line x1="250.70" y1="577.40" x2="250.70" y2="580.60" stroke="#333333" stroke-width="1.07"/>
<text x="250.70" y="591.60" font-size="10.8" fill="#4D4D4D" text-anchor="middle">0</text>
<line x1="280.73" y1="577.40" x2="280.73" y2="580.60" stroke="#333333" stroke-width="1.07"/>
<text x="280.73" y="591.60" font-size="10.8" fill="#4D4D4D" text-anchor="middle">1</text>
<line x1="310.76" y1="577.40" x2="310.76" y2="580.60" stroke="#333333" stroke-width="1.07"/>
<text x="310.76" y="591.60" font-size="10.8" fill="#4D4D4D" text-anchor="middle">2</text>
<line x1="340.79" y1="577.40" x2="340.79" y2="580.60" stroke="#333333" stroke-width="1.07"/>
<text x="340.79" y="591.60" font-size="10.8" fill="#4D4D4D" text-anchor="middle">3</text>
</g>
<g>
<rect x="369.20" y="418.30" width="152.00" height="159.10" fill="#FFFFFF"/>
<clipPath id="cpk"><rect x="369.20" y="418.30" width="152.00" height="159.10"/></clipPath>
<g clip-path="url(#cpk)">
<rect x="424.65" y="420.02" width="26.87" height="9.75" fill="#ADD8E6"/>
<rect x="424.65" y="431.25" width="26.27" height="9.75" fill="#ADD8E6"/>
<rect x="424.65" y="453.71" width="29.25" height="9.75" fill="#ADD8E6"/>
<rect x="424.65" y="464.94" width="40.60" height="9.75" fill="#ADD8E6"/>
<rect x="424.65" y="476.17" width="26.87" height="9.75" fill="#ADD8E6"/>
<rect x="424.65" y="487.40" width="31.04" height="9.75" fill="#ADD8E6"/>
<rect x="424.65" y="498.63" width="43.58" height="9.75" fill="#ADD8E6"/>
<rect x="424.65" y="509.87" width="35.82" height="9.75" fill="#ADD8E6"/>
<rect x="424.65" y="521.10" width="53.13" height="9.75" fill="#ADD8E6"/>
<rect x="424.65" y="543.55" width="40.60" height="9.75" fill="#ADD8E6"/>
<rect x="424.65" y="554.78" width="45.97" height="9.75" fill="#ADD8E6"/>
<rect x="424.65" y="566.01" width="54.92" height="9.75" fill="#ADD8E6"/>
<line x1="369.20" y1="464.20" x2="521.20" y2="464.20" stroke="#000" stroke-width="1.1" stroke-dasharray="3.7 4.07"/>
<line x1="369.20" y1="520.36" x2="521.20" y2="520.36" stroke="#000" stroke-width="1.1" stroke-dasharray="3.7 4.07"/>
<line x1="451.51" y1="424.90" x2="402.56" y2="424.90" stroke="#0000FF" stroke-width="1.05"/>
<line x1="450.92" y1="436.13" x2="406.74" y2="436.13" stroke="#0000FF" stroke-width="1.05"/>
<line x1="453.90" y1="458.59" x2="394.80" y2="458.59" stroke="#0000FF" stroke-width="1.05"/>
<line x1="465.25" y1="469.82" x2="478.38" y2="469.82" stroke="#FF0000" stroke-width="1.05"/>
<line x1="451.51" y1="481.05" x2="455.69" y2="481.05" stroke="#FF0000" stroke-width="1.05"/>
<line x1="455.69" y1="492.28" x2="414.50" y2="492.28" stroke="#0000FF" stroke-width="1.05"/>
<line x1="468.23" y1="503.51" x2="465.84" y2="503.51" stroke="#0000FF" stroke-width="1.05"/>
<line x1="460.47" y1="514.74" x2="438.98" y2="514.74" stroke="#0000FF" stroke-width="1.05"/>
<line x1="477.78" y1="525.97" x2="473.60" y2="525.97" stroke="#0000FF" stroke-width="1.05"/>
<line x1="465.25" y1="548.43" x2="480.77" y2="548.43" stroke="#FF0000" stroke-width="1.05"/>
<line x1="470.62" y1="559.66" x2="433.01" y2="559.66" stroke="#0000FF" stroke-width="1.05"/>
<line x1="479.57" y1="570.89" x2="406.14" y2="570.89" stroke="#0000FF" stroke-width="1.05"/>
<rect x="395.99" y="422.60" width="14.33" height="4.60" fill="rgba(222,0,22,0.45)"/>
<rect x="391.22" y="433.83" width="31.04" height="4.60" fill="rgba(222,0,22,0.45)"/>
<rect x="376.29" y="456.29" width="38.21" height="4.60" fill="rgba(222,0,22,0.45)"/>
<rect x="468.83" y="467.52" width="19.70" height="4.60" fill="rgba(222,0,22,0.45)"/>
<rect x="441.96" y="478.75" width="28.66" height="4.60" fill="rgba(222,0,22,0.45)"/>
<rect x="398.38" y="489.98" width="32.84" height="4.60" fill="rgba(222,0,22,0.45)"/>
<rect x="453.31" y="501.21" width="25.07" height="4.60" fill="rgba(222,0,22,0.45)"/>
<rect x="424.65" y="512.44" width="28.66" height="4.60" fill="rgba(222,0,22,0.45)"/>
<rect x="464.65" y="523.67" width="17.91" height="4.60" fill="rgba(222,0,22,0.45)"/>
<rect x="466.44" y="546.13" width="28.06" height="4.60" fill="rgba(222,0,22,0.45)"/>
<rect x="416.89" y="557.36" width="32.84" height="4.60" fill="rgba(222,0,22,0.45)"/>
<rect x="395.99" y="568.59" width="22.09" height="4.60" fill="rgba(222,0,22,0.45)"/>
<line x1="451.51" y1="424.90" x2="402.56" y2="424.90" stroke="#0000FF" stroke-width="1.15" stroke-opacity="0.75"/>
<line x1="450.92" y1="436.13" x2="406.74" y2="436.13" stroke="#0000FF" stroke-width="1.15" stroke-opacity="0.75"/>
<line x1="453.90" y1="458.59" x2="394.80" y2="458.59" stroke="#0000FF" stroke-width="1.15" stroke-opacity="0.75"/>
<line x1="465.25" y1="469.82" x2="478.38" y2="469.82" stroke="#FF0000" stroke-width="1.15" stroke-opacity="0.75"/>
<line x1="451.51" y1="481.05" x2="455.69" y2="481.05" stroke="#FF0000" stroke-width="1.15" stroke-opacity="0.75"/>
<line x1="455.69" y1="492.28" x2="414.50" y2="492.28" stroke="#0000FF" stroke-width="1.15" stroke-opacity="0.75"/>
<line x1="468.23" y1="503.51" x2="465.84" y2="503.51" stroke="#0000FF" stroke-width="1.15" stroke-opacity="0.75"/>
<line x1="460.47" y1="514.74" x2="438.98" y2="514.74" stroke="#0000FF" stroke-width="1.15" stroke-opacity="0.75"/>
<line x1="477.78" y1="525.97" x2="473.60" y2="525.97" stroke="#0000FF" stroke-width="1.15" stroke-opacity="0.75"/>
<line x1="465.25" y1="548.43" x2="480.77" y2="548.43" stroke="#FF0000" stroke-width="1.15" stroke-opacity="0.75"/>
<line x1="470.62" y1="559.66" x2="433.01" y2="559.66" stroke="#0000FF" stroke-width="1.15" stroke-opacity="0.75"/>
<line x1="479.57" y1="570.89" x2="406.14" y2="570.89" stroke="#0000FF" stroke-width="1.15" stroke-opacity="0.75"/>
<circle cx="402.56" cy="424.90" r="3.0" fill="#E9A446" stroke="#000" stroke-width="0.9"/>
<path d="M399.56 424.90H405.56M402.56 421.90V427.90" stroke="#000" stroke-width="0.9"/>
<circle cx="406.74" cy="436.13" r="3.0" fill="#BBEE8E" stroke="#000" stroke-width="0.9"/>
<circle cx="394.80" cy="458.59" r="3.0" fill="#EAE58E" stroke="#000" stroke-width="0.9"/>
<path d="M391.80 458.59H397.80M394.80 455.59V461.59" stroke="#000" stroke-width="0.9"/>
<circle cx="478.38" cy="469.82" r="3.0" fill="#4AA0B0" stroke="#000" stroke-width="0.9"/>
<circle cx="455.69" cy="481.05" r="3.0" fill="#D8EE9A" stroke="#000" stroke-width="0.9"/>
<path d="M452.69 481.05H458.69M455.69 478.05V484.05" stroke="#000" stroke-width="0.9"/>
<circle cx="414.50" cy="492.28" r="3.0" fill="#D8EE9A" stroke="#000" stroke-width="0.9"/>
<path d="M411.50 492.28H417.50M414.50 489.28V495.28" stroke="#000" stroke-width="0.9"/>
<circle cx="465.84" cy="503.51" r="3.0" fill="#D8EE9A" stroke="#000" stroke-width="0.9"/>
<path d="M462.84 503.51H468.84M465.84 500.51V506.51" stroke="#000" stroke-width="0.9"/>
<circle cx="438.98" cy="514.74" r="3.0" fill="#95E989" stroke="#000" stroke-width="0.9"/>
<circle cx="473.60" cy="525.97" r="3.0" fill="#95E989" stroke="#000" stroke-width="0.9"/>
<circle cx="480.77" cy="548.43" r="3.0" fill="#E0552C" stroke="#000" stroke-width="0.9"/>
<path d="M477.77 548.43H483.77M480.77 545.43V551.43" stroke="#000" stroke-width="0.9"/>
<circle cx="433.01" cy="559.66" r="3.0" fill="#D8EE9A" stroke="#000" stroke-width="0.9"/>
<path d="M430.01 559.66H436.01M433.01 556.66V562.66" stroke="#000" stroke-width="0.9"/>
<circle cx="406.14" cy="570.89" r="3.0" fill="#D8EE9A" stroke="#000" stroke-width="0.9"/>
<path d="M403.14 570.89H409.14M406.14 567.89V573.89" stroke="#000" stroke-width="0.9"/>
<text x="514.20" y="428.50" font-size="8.7" fill="#2A2A2A" text-anchor="end">-0.37</text>
<text x="514.20" y="439.73" font-size="8.7" fill="#2A2A2A" text-anchor="end">-0.3</text>
<text x="514.20" y="462.19" font-size="8.7" fill="#2A2A2A" text-anchor="end">-0.5</text>
<text x="514.20" y="473.42" font-size="8.7" fill="#2A2A2A" text-anchor="end">0.9</text>
<text x="514.20" y="484.65" font-size="8.7" fill="#2A2A2A" text-anchor="end">0.52</text>
<text x="514.20" y="495.88" font-size="8.7" fill="#2A2A2A" text-anchor="end">-0.17</text>
<text x="514.20" y="507.11" font-size="8.7" fill="#2A2A2A" text-anchor="end">0.69</text>
<text x="514.20" y="518.34" font-size="8.7" fill="#2A2A2A" text-anchor="end">0.24</text>
<text x="514.20" y="529.57" font-size="8.7" fill="#2A2A2A" text-anchor="end">0.82</text>
<text x="514.20" y="552.03" font-size="8.7" fill="#2A2A2A" text-anchor="end">0.94</text>
<text x="514.20" y="563.26" font-size="8.7" fill="#2A2A2A" text-anchor="end">0.14</text>
<text x="514.20" y="574.49" font-size="8.7" fill="#2A2A2A" text-anchor="end">-0.31</text>
<text x="489.70" y="460.25" font-size="10.5" fill="#2222FA" text-anchor="end">-0.39</text>
<text x="489.70" y="517.65" font-size="10.5" fill="#D8C440" text-anchor="end">0.43</text>
<text x="393.40" y="561.95" font-size="10.5" fill="#C4432E" text-anchor="end">0.40</text>
</g>
<rect x="369.20" y="418.30" width="152.00" height="159.10" fill="none" stroke="#333333" stroke-width="1.07"/>
<rect x="369.20" y="400.40" width="152.00" height="17.90" fill="#D9D9D9" stroke="#333333" stroke-width="1.07"/>
<text x="372.00" y="413.00" font-size="10.8" fill="#1A1A1A" text-anchor="start">(k)</text>
<text x="413.00" y="413.00" font-size="10.8" fill="#1A1A1A">LCC (log<tspan font-size="7.2" dy="2.6">10</tspan><tspan dy="-2.6">, %)</tspan></text>
<line x1="394.80" y1="577.40" x2="394.80" y2="580.60" stroke="#333333" stroke-width="1.07"/>
<text x="394.80" y="591.60" font-size="10.8" fill="#4D4D4D" text-anchor="middle">-0.5</text>
<line x1="424.65" y1="577.40" x2="424.65" y2="580.60" stroke="#333333" stroke-width="1.07"/>
<text x="424.65" y="591.60" font-size="10.8" fill="#4D4D4D" text-anchor="middle">0.0</text>
<line x1="454.50" y1="577.40" x2="454.50" y2="580.60" stroke="#333333" stroke-width="1.07"/>
<text x="454.50" y="591.60" font-size="10.8" fill="#4D4D4D" text-anchor="middle">0.5</text>
<line x1="484.35" y1="577.40" x2="484.35" y2="580.60" stroke="#333333" stroke-width="1.07"/>
<text x="484.35" y="591.60" font-size="10.8" fill="#4D4D4D" text-anchor="middle">1.0</text>
<line x1="514.20" y1="577.40" x2="514.20" y2="580.60" stroke="#333333" stroke-width="1.07"/>
<text x="514.20" y="591.60" font-size="10.8" fill="#4D4D4D" text-anchor="middle">1.5</text>
</g>
<rect x="683.6" y="379" width="2" height="18" fill="#FFFFFF"/>
<text transform="translate(9.0 298.4) rotate(-90)" font-size="12.2" fill="#1A1A1A" text-anchor="middle">Ecoregion</text>
<defs><linearGradient id="cb" x1="0" y1="0" x2="0" y2="1"><stop offset="0.0" stop-color="#2A1F5C"/><stop offset="0.0625" stop-color="#3B2577"/><stop offset="0.1" stop-color="#57309A"/><stop offset="0.125" stop-color="#4F43A4"/><stop offset="0.1875" stop-color="#3C64B0"/><stop offset="0.25" stop-color="#4695C4"/><stop offset="0.29" stop-color="#4AA7BD"/><stop offset="0.33" stop-color="#3A8C78"/><stop offset="0.375" stop-color="#1F6B3A"/><stop offset="0.4375" stop-color="#4FA247"/><stop offset="0.47" stop-color="#86D878"/><stop offset="0.49" stop-color="#B4EE98"/><stop offset="0.5" stop-color="#DCF0A2"/><stop offset="0.5625" stop-color="#F1EA98"/><stop offset="0.625" stop-color="#F0D37E"/><stop offset="0.6875" stop-color="#F0AE60"/><stop offset="0.75" stop-color="#EF8246"/><stop offset="0.8125" stop-color="#EB5A30"/><stop offset="0.85" stop-color="#D8381F"/><stop offset="0.875" stop-color="#C02818"/><stop offset="0.9375" stop-color="#82100E"/><stop offset="1.0" stop-color="#460506"/></linearGradient></defs>
<rect x="523.8" y="399.7" width="9.3" height="177.7" rx="2.2" fill="url(#cb)"/>
<text x="553.40" y="403.90" font-size="9.2" fill="#333333" text-anchor="end">-4.0</text>
<line x1="523.8" y1="422.30" x2="525.5999999999999" y2="422.30" stroke="#FFFFFF" stroke-width="1"/>
<line x1="531.3" y1="422.30" x2="533.0999999999999" y2="422.30" stroke="#FFFFFF" stroke-width="1"/>
<text x="553.40" y="424.20" font-size="9.2" fill="#333333" text-anchor="end">-3.0</text>
<line x1="523.8" y1="444.50" x2="525.5999999999999" y2="444.50" stroke="#FFFFFF" stroke-width="1"/>
<line x1="531.3" y1="444.50" x2="533.0999999999999" y2="444.50" stroke="#FFFFFF" stroke-width="1"/>
<text x="553.40" y="446.40" font-size="9.2" fill="#333333" text-anchor="end">-2.0</text>
<line x1="523.8" y1="466.70" x2="525.5999999999999" y2="466.70" stroke="#FFFFFF" stroke-width="1"/>
<line x1="531.3" y1="466.70" x2="533.0999999999999" y2="466.70" stroke="#FFFFFF" stroke-width="1"/>
<text x="553.40" y="468.90" font-size="9.2" fill="#333333" text-anchor="end">-1.0</text>
<line x1="523.8" y1="488.90" x2="525.5999999999999" y2="488.90" stroke="#FFFFFF" stroke-width="1"/>
<line x1="531.3" y1="488.90" x2="533.0999999999999" y2="488.90" stroke="#FFFFFF" stroke-width="1"/>
<text x="553.40" y="491.80" font-size="9.2" fill="#333333" text-anchor="end">0.0</text>
<line x1="523.8" y1="511.10" x2="525.5999999999999" y2="511.10" stroke="#FFFFFF" stroke-width="1"/>
<line x1="531.3" y1="511.10" x2="533.0999999999999" y2="511.10" stroke="#FFFFFF" stroke-width="1"/>
<text x="553.40" y="513.20" font-size="9.2" fill="#333333" text-anchor="end">1.0</text>
<line x1="523.8" y1="533.30" x2="525.5999999999999" y2="533.30" stroke="#FFFFFF" stroke-width="1"/>
<line x1="531.3" y1="533.30" x2="533.0999999999999" y2="533.30" stroke="#FFFFFF" stroke-width="1"/>
<text x="553.40" y="536.10" font-size="9.2" fill="#333333" text-anchor="end">2.0</text>
<line x1="523.8" y1="555.50" x2="525.5999999999999" y2="555.50" stroke="#FFFFFF" stroke-width="1"/>
<line x1="531.3" y1="555.50" x2="533.0999999999999" y2="555.50" stroke="#FFFFFF" stroke-width="1"/>
<text x="553.40" y="558.90" font-size="9.2" fill="#333333" text-anchor="end">3.0</text>
<text x="553.40" y="579.00" font-size="9.2" fill="#333333" text-anchor="end">4.0</text>
<text transform="translate(557.4 493.3) rotate(90)" font-size="10.8" font-weight="bold" fill="#000" text-anchor="middle">Scaled threshold effect</text>
<rect x="569.4" y="400.8" width="110.3" height="111.7" fill="#FFFFFF" stroke="#7F7F7F" stroke-width="1"/>
<text x="572.60" y="412.60" font-size="10.5" fill="#000" text-anchor="start" font-weight="bold">Threshold</text>
<rect x="572.4" y="419.4" width="11.5" height="9.3" fill="#ADD8E6"/>
<text x="588.30" y="428.00" font-size="10.75" fill="#1A1A1A" text-anchor="start">Regional averages</text>
<rect x="572.4" y="443.1" width="11.5" height="4.0" fill="rgba(222,0,22,0.45)"/>
<text x="588.30" y="448.90" font-size="10.75" fill="#1A1A1A" text-anchor="start">95% confidence</text>
<text x="588.3" y="462.2" font-size="10.75" fill="#1A1A1A">interval of <tspan font-style="italic">e</tspan></text>
<line x1="572.4" y1="477.6" x2="583.4" y2="477.6" stroke="#FF0000" stroke-width="1.6"/>
<text x="589.3" y="481.0" font-size="10.75" fill="#1A1A1A"><tspan font-style="italic">e</tspan> &gt; average</text>
<line x1="572.4" y1="495.3" x2="583.4" y2="495.3" stroke="#0000FF" stroke-width="1.6"/>
<text x="589.3" y="498.6" font-size="10.75" fill="#1A1A1A"><tspan font-style="italic">e</tspan> &lt; average</text>
<rect x="569.2" y="516.5" width="110.0" height="50.2" fill="#FFFFFF" stroke="#7F7F7F" stroke-width="1"/>
<text x="572.40" y="527.00" font-size="10.5" fill="#000" text-anchor="start" font-weight="bold">Threshold Effect</text>
<circle cx="576.8" cy="540.2" r="3.8" fill="none" stroke="#000" stroke-width="1"/>
<path d="M573.0 540.2H580.6M576.8 536.4V544.0" stroke="#000" stroke-width="1.15"/>
<text x="588.40" y="542.80" font-size="10.75" fill="#1A1A1A" text-anchor="start">Enhance effect</text>
<circle cx="577.0" cy="557.5" r="3.8" fill="none" stroke="#000" stroke-width="1"/>
<text x="589.00" y="562.00" font-size="10.75" fill="#1A1A1A" text-anchor="start">Weaken effect</text>
</g>
</svg>
</body></html>
